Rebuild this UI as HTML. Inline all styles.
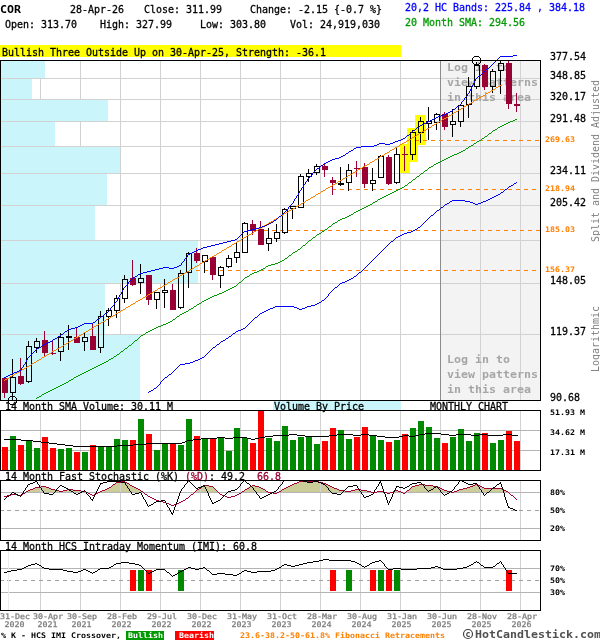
<!DOCTYPE html>
<html><head><meta charset="utf-8"><title>COR Monthly Chart</title>
<style>html,body{margin:0;padding:0;background:#fff;overflow:hidden}svg{display:block}text{filter:url(#gs);font-family:"DejaVu Sans Mono","Liberation Mono",monospace;white-space:pre}</style>
</head><body>
<svg width="600" height="640" viewBox="0 0 600 640" shape-rendering="crispEdges">
<defs><filter id="gs" x="-5%" y="-50%" width="110%" height="200%"><feOffset dx="0" dy="0"/></filter></defs>
<rect x="0" y="0" width="600" height="640" fill="#fff" />
<text x="0" y="13" font-size="11" fill="#000" font-weight="bold" textLength="21" lengthAdjust="spacingAndGlyphs" >COR</text>
<text x="70" y="13" font-size="11" fill="#000" font-weight="normal" textLength="54" lengthAdjust="spacingAndGlyphs"  stroke="#000" stroke-width="0.3">28-Apr-26</text>
<text x="144" y="13" font-size="11" fill="#000" font-weight="normal" textLength="78" lengthAdjust="spacingAndGlyphs"  stroke="#000" stroke-width="0.3">Close: 311.99</text>
<text x="250" y="13" font-size="11" fill="#000" font-weight="normal" textLength="132" lengthAdjust="spacingAndGlyphs"  stroke="#000" stroke-width="0.3">Change: -2.15 {-0.7 %}</text>
<text x="5" y="28" font-size="11" fill="#000" font-weight="normal" textLength="72" lengthAdjust="spacingAndGlyphs"  stroke="#000" stroke-width="0.3">Open: 313.70</text>
<text x="100" y="28" font-size="11" fill="#000" font-weight="normal" textLength="72" lengthAdjust="spacingAndGlyphs"  stroke="#000" stroke-width="0.3">High: 327.99</text>
<text x="200" y="28" font-size="11" fill="#000" font-weight="normal" textLength="66" lengthAdjust="spacingAndGlyphs"  stroke="#000" stroke-width="0.3">Low: 303.80</text>
<text x="290" y="28" font-size="11" fill="#000" font-weight="normal" textLength="90" lengthAdjust="spacingAndGlyphs"  stroke="#000" stroke-width="0.3">Vol: 24,919,030</text>
<text x="405" y="11" font-size="11" fill="#0000ff" font-weight="normal" textLength="180" lengthAdjust="spacingAndGlyphs"  stroke="#0000ff" stroke-width="0.3">20,2 HC Bands: 225.84 , 384.18</text>
<text x="405" y="26" font-size="11" fill="#009900" font-weight="normal" textLength="120" lengthAdjust="spacingAndGlyphs"  stroke="#009900" stroke-width="0.3">20 Month SMA: 294.56</text>
<rect x="0" y="45" width="401" height="12" fill="#ffff00" />
<text x="2" y="56" font-size="11" fill="#000" font-weight="normal" textLength="324" lengthAdjust="spacingAndGlyphs"  stroke="#000" stroke-width="0.3">Bullish Three Outside Up on 30-Apr-25, Strength: -36.1</text>
<rect x="441" y="61" width="99" height="339" fill="#f3f3f3" />
<rect x="1" y="78" width="539" height="1" fill="#d2d2d2" />
<rect x="1" y="99" width="539" height="1" fill="#d2d2d2" />
<rect x="1" y="121" width="539" height="1" fill="#d2d2d2" />
<rect x="1" y="146" width="539" height="1" fill="#d2d2d2" />
<rect x="1" y="173" width="539" height="1" fill="#d2d2d2" />
<rect x="1" y="205" width="539" height="1" fill="#d2d2d2" />
<rect x="1" y="240" width="539" height="1" fill="#d2d2d2" />
<rect x="1" y="283" width="539" height="1" fill="#d2d2d2" />
<rect x="1" y="334" width="539" height="1" fill="#d2d2d2" />
<rect x="40" y="61" width="1" height="339" fill="#d2d2d2" />
<rect x="80" y="61" width="1" height="339" fill="#d2d2d2" />
<rect x="120" y="61" width="1" height="339" fill="#d2d2d2" />
<rect x="160" y="61" width="1" height="339" fill="#d2d2d2" />
<rect x="200" y="61" width="1" height="339" fill="#d2d2d2" />
<rect x="240" y="61" width="1" height="339" fill="#d2d2d2" />
<rect x="280" y="61" width="1" height="339" fill="#d2d2d2" />
<rect x="320" y="61" width="1" height="339" fill="#d2d2d2" />
<rect x="360" y="61" width="1" height="339" fill="#d2d2d2" />
<rect x="400" y="61" width="1" height="339" fill="#d2d2d2" />
<rect x="480" y="61" width="1" height="339" fill="#d2d2d2" />
<rect x="520" y="61" width="1" height="339" fill="#d2d2d2" />
<rect x="440" y="61" width="1" height="339" fill="#8c8c8c" />
<rect x="1" y="61" width="44" height="17" fill="#c9f5fb" />
<rect x="1" y="79" width="31" height="20" fill="#c9f5fb" />
<rect x="1" y="100" width="107" height="21" fill="#c9f5fb" />
<rect x="1" y="122" width="54" height="24" fill="#c9f5fb" />
<rect x="1" y="147" width="119" height="26" fill="#c9f5fb" />
<rect x="1" y="174" width="106" height="31" fill="#c9f5fb" />
<rect x="1" y="206" width="94" height="34" fill="#c9f5fb" />
<rect x="1" y="241" width="197" height="42" fill="#c9f5fb" />
<rect x="1" y="284" width="104" height="50" fill="#c9f5fb" />
<rect x="1" y="335" width="139" height="65" fill="#c9f5fb" />
<rect x="400" y="144" width="10" height="29" fill="#ffff00" />
<rect x="407" y="128" width="11" height="34" fill="#ffff00" />
<rect x="415" y="115" width="11" height="30" fill="#ffff00" />
<rect x="415" y="140" width="4" height="1" fill="#ff7f00" />
<rect x="423" y="140" width="4" height="1" fill="#ff7f00" />
<rect x="431" y="140" width="4" height="1" fill="#ff7f00" />
<rect x="439" y="140" width="4" height="1" fill="#ff7f00" />
<rect x="447" y="140" width="4" height="1" fill="#ff7f00" />
<rect x="455" y="140" width="4" height="1" fill="#ff7f00" />
<rect x="463" y="140" width="4" height="1" fill="#ff7f00" />
<rect x="471" y="140" width="4" height="1" fill="#ff7f00" />
<rect x="479" y="140" width="4" height="1" fill="#ff7f00" />
<rect x="487" y="140" width="4" height="1" fill="#ff7f00" />
<rect x="495" y="140" width="4" height="1" fill="#ff7f00" />
<rect x="503" y="140" width="4" height="1" fill="#ff7f00" />
<rect x="511" y="140" width="4" height="1" fill="#ff7f00" />
<rect x="519" y="140" width="4" height="1" fill="#ff7f00" />
<rect x="527" y="140" width="4" height="1" fill="#ff7f00" />
<rect x="535" y="140" width="4" height="1" fill="#ff7f00" />
<rect x="332" y="189" width="4" height="1" fill="#ff7f00" />
<rect x="340" y="189" width="4" height="1" fill="#ff7f00" />
<rect x="348" y="189" width="4" height="1" fill="#ff7f00" />
<rect x="356" y="189" width="4" height="1" fill="#ff7f00" />
<rect x="364" y="189" width="4" height="1" fill="#ff7f00" />
<rect x="372" y="189" width="4" height="1" fill="#ff7f00" />
<rect x="380" y="189" width="4" height="1" fill="#ff7f00" />
<rect x="388" y="189" width="4" height="1" fill="#ff7f00" />
<rect x="396" y="189" width="4" height="1" fill="#ff7f00" />
<rect x="404" y="189" width="4" height="1" fill="#ff7f00" />
<rect x="412" y="189" width="4" height="1" fill="#ff7f00" />
<rect x="420" y="189" width="4" height="1" fill="#ff7f00" />
<rect x="428" y="189" width="4" height="1" fill="#ff7f00" />
<rect x="436" y="189" width="4" height="1" fill="#ff7f00" />
<rect x="444" y="189" width="4" height="1" fill="#ff7f00" />
<rect x="452" y="189" width="4" height="1" fill="#ff7f00" />
<rect x="460" y="189" width="4" height="1" fill="#ff7f00" />
<rect x="468" y="189" width="4" height="1" fill="#ff7f00" />
<rect x="476" y="189" width="4" height="1" fill="#ff7f00" />
<rect x="484" y="189" width="4" height="1" fill="#ff7f00" />
<rect x="492" y="189" width="4" height="1" fill="#ff7f00" />
<rect x="500" y="189" width="4" height="1" fill="#ff7f00" />
<rect x="508" y="189" width="4" height="1" fill="#ff7f00" />
<rect x="516" y="189" width="4" height="1" fill="#ff7f00" />
<rect x="524" y="189" width="4" height="1" fill="#ff7f00" />
<rect x="532" y="189" width="4" height="1" fill="#ff7f00" />
<rect x="264" y="230" width="4" height="1" fill="#ff7f00" />
<rect x="272" y="230" width="4" height="1" fill="#ff7f00" />
<rect x="280" y="230" width="4" height="1" fill="#ff7f00" />
<rect x="288" y="230" width="4" height="1" fill="#ff7f00" />
<rect x="296" y="230" width="4" height="1" fill="#ff7f00" />
<rect x="304" y="230" width="4" height="1" fill="#ff7f00" />
<rect x="312" y="230" width="4" height="1" fill="#ff7f00" />
<rect x="320" y="230" width="4" height="1" fill="#ff7f00" />
<rect x="328" y="230" width="4" height="1" fill="#ff7f00" />
<rect x="336" y="230" width="4" height="1" fill="#ff7f00" />
<rect x="344" y="230" width="4" height="1" fill="#ff7f00" />
<rect x="352" y="230" width="4" height="1" fill="#ff7f00" />
<rect x="360" y="230" width="4" height="1" fill="#ff7f00" />
<rect x="368" y="230" width="4" height="1" fill="#ff7f00" />
<rect x="376" y="230" width="4" height="1" fill="#ff7f00" />
<rect x="384" y="230" width="4" height="1" fill="#ff7f00" />
<rect x="392" y="230" width="4" height="1" fill="#ff7f00" />
<rect x="400" y="230" width="4" height="1" fill="#ff7f00" />
<rect x="408" y="230" width="4" height="1" fill="#ff7f00" />
<rect x="416" y="230" width="4" height="1" fill="#ff7f00" />
<rect x="424" y="230" width="4" height="1" fill="#ff7f00" />
<rect x="432" y="230" width="4" height="1" fill="#ff7f00" />
<rect x="440" y="230" width="4" height="1" fill="#ff7f00" />
<rect x="448" y="230" width="4" height="1" fill="#ff7f00" />
<rect x="456" y="230" width="4" height="1" fill="#ff7f00" />
<rect x="464" y="230" width="4" height="1" fill="#ff7f00" />
<rect x="472" y="230" width="4" height="1" fill="#ff7f00" />
<rect x="480" y="230" width="4" height="1" fill="#ff7f00" />
<rect x="488" y="230" width="4" height="1" fill="#ff7f00" />
<rect x="496" y="230" width="4" height="1" fill="#ff7f00" />
<rect x="504" y="230" width="4" height="1" fill="#ff7f00" />
<rect x="512" y="230" width="4" height="1" fill="#ff7f00" />
<rect x="520" y="230" width="4" height="1" fill="#ff7f00" />
<rect x="528" y="230" width="4" height="1" fill="#ff7f00" />
<rect x="536" y="230" width="4" height="1" fill="#ff7f00" />
<rect x="196" y="270" width="4" height="1" fill="#ff7f00" />
<rect x="204" y="270" width="4" height="1" fill="#ff7f00" />
<rect x="212" y="270" width="4" height="1" fill="#ff7f00" />
<rect x="220" y="270" width="4" height="1" fill="#ff7f00" />
<rect x="228" y="270" width="4" height="1" fill="#ff7f00" />
<rect x="236" y="270" width="4" height="1" fill="#ff7f00" />
<rect x="244" y="270" width="4" height="1" fill="#ff7f00" />
<rect x="252" y="270" width="4" height="1" fill="#ff7f00" />
<rect x="260" y="270" width="4" height="1" fill="#ff7f00" />
<rect x="268" y="270" width="4" height="1" fill="#ff7f00" />
<rect x="276" y="270" width="4" height="1" fill="#ff7f00" />
<rect x="284" y="270" width="4" height="1" fill="#ff7f00" />
<rect x="292" y="270" width="4" height="1" fill="#ff7f00" />
<rect x="300" y="270" width="4" height="1" fill="#ff7f00" />
<rect x="308" y="270" width="4" height="1" fill="#ff7f00" />
<rect x="316" y="270" width="4" height="1" fill="#ff7f00" />
<rect x="324" y="270" width="4" height="1" fill="#ff7f00" />
<rect x="332" y="270" width="4" height="1" fill="#ff7f00" />
<rect x="340" y="270" width="4" height="1" fill="#ff7f00" />
<rect x="348" y="270" width="4" height="1" fill="#ff7f00" />
<rect x="356" y="270" width="4" height="1" fill="#ff7f00" />
<rect x="364" y="270" width="4" height="1" fill="#ff7f00" />
<rect x="372" y="270" width="4" height="1" fill="#ff7f00" />
<rect x="380" y="270" width="4" height="1" fill="#ff7f00" />
<rect x="388" y="270" width="4" height="1" fill="#ff7f00" />
<rect x="396" y="270" width="4" height="1" fill="#ff7f00" />
<rect x="404" y="270" width="4" height="1" fill="#ff7f00" />
<rect x="412" y="270" width="4" height="1" fill="#ff7f00" />
<rect x="420" y="270" width="4" height="1" fill="#ff7f00" />
<rect x="428" y="270" width="4" height="1" fill="#ff7f00" />
<rect x="436" y="270" width="4" height="1" fill="#ff7f00" />
<rect x="444" y="270" width="4" height="1" fill="#ff7f00" />
<rect x="452" y="270" width="4" height="1" fill="#ff7f00" />
<rect x="460" y="270" width="4" height="1" fill="#ff7f00" />
<rect x="468" y="270" width="4" height="1" fill="#ff7f00" />
<rect x="476" y="270" width="4" height="1" fill="#ff7f00" />
<rect x="484" y="270" width="4" height="1" fill="#ff7f00" />
<rect x="492" y="270" width="4" height="1" fill="#ff7f00" />
<rect x="500" y="270" width="4" height="1" fill="#ff7f00" />
<rect x="508" y="270" width="4" height="1" fill="#ff7f00" />
<rect x="516" y="270" width="4" height="1" fill="#ff7f00" />
<rect x="524" y="270" width="4" height="1" fill="#ff7f00" />
<rect x="532" y="270" width="4" height="1" fill="#ff7f00" />
<text x="447" y="71" font-size="11" fill="#a6a6a6" font-weight="bold" textLength="63" lengthAdjust="spacingAndGlyphs" >Log in to</text>
<text x="447" y="363" font-size="11" fill="#a6a6a6" font-weight="bold" textLength="63" lengthAdjust="spacingAndGlyphs" >Log in to</text>
<text x="447" y="86" font-size="11" fill="#a6a6a6" font-weight="bold" textLength="91" lengthAdjust="spacingAndGlyphs" >view patterns</text>
<text x="447" y="378" font-size="11" fill="#a6a6a6" font-weight="bold" textLength="91" lengthAdjust="spacingAndGlyphs" >view patterns</text>
<text x="447" y="101" font-size="11" fill="#a6a6a6" font-weight="bold" textLength="84" lengthAdjust="spacingAndGlyphs" >in this area</text>
<text x="447" y="393" font-size="11" fill="#a6a6a6" font-weight="bold" textLength="84" lengthAdjust="spacingAndGlyphs" >in this area</text>
<rect x="4" y="378" width="1" height="20" fill="#990033" />
<rect x="2" y="378" width="6" height="15" fill="#990033" />
<rect x="12" y="359" width="1" height="18" fill="#000" />
<rect x="12" y="393" width="1" height="7" fill="#000" />
<rect x="10.5" y="377.5" width="5" height="15" fill="none" stroke="#000" stroke-width="1"/>
<rect x="20" y="358" width="1" height="27" fill="#990033" />
<rect x="18" y="376" width="6" height="8" fill="#990033" />
<rect x="28" y="341" width="1" height="5" fill="#000" />
<rect x="28" y="382" width="1" height="1" fill="#000" />
<rect x="26.5" y="346.5" width="5" height="35" fill="none" stroke="#000" stroke-width="1"/>
<rect x="36" y="338" width="1" height="3" fill="#000" />
<rect x="36" y="348" width="1" height="5" fill="#000" />
<rect x="34.5" y="341.5" width="5" height="6" fill="none" stroke="#000" stroke-width="1"/>
<rect x="44" y="331" width="1" height="25" fill="#990033" />
<rect x="42" y="340" width="6" height="13" fill="#990033" />
<rect x="52" y="341" width="1" height="14" fill="#990033" />
<rect x="50" y="353" width="6" height="1" fill="#990033" />
<rect x="60" y="333" width="1" height="4" fill="#000" />
<rect x="60" y="352" width="1" height="9" fill="#000" />
<rect x="58.5" y="337.5" width="5" height="14" fill="none" stroke="#000" stroke-width="1"/>
<rect x="68" y="325" width="1" height="25" fill="#000" />
<rect x="66" y="336" width="6" height="2" fill="#000" />
<rect x="76" y="327" width="1" height="16" fill="#990033" />
<rect x="74" y="337" width="6" height="6" fill="#990033" />
<rect x="84" y="333" width="1" height="4" fill="#000" />
<rect x="84" y="342" width="1" height="9" fill="#000" />
<rect x="82.5" y="337.5" width="5" height="4" fill="none" stroke="#000" stroke-width="1"/>
<rect x="92" y="323" width="1" height="27" fill="#990033" />
<rect x="90" y="336" width="6" height="14" fill="#990033" />
<rect x="100" y="311" width="1" height="5" fill="#000" />
<rect x="100" y="348" width="1" height="5" fill="#000" />
<rect x="98.5" y="316.5" width="5" height="31" fill="none" stroke="#000" stroke-width="1"/>
<rect x="108" y="308" width="1" height="2" fill="#000" />
<rect x="108" y="317" width="1" height="9" fill="#000" />
<rect x="106.5" y="310.5" width="5" height="6" fill="none" stroke="#000" stroke-width="1"/>
<rect x="116" y="295" width="1" height="3" fill="#000" />
<rect x="116" y="311" width="1" height="7" fill="#000" />
<rect x="114.5" y="298.5" width="5" height="12" fill="none" stroke="#000" stroke-width="1"/>
<rect x="124" y="275" width="1" height="4" fill="#000" />
<rect x="124" y="299" width="1" height="4" fill="#000" />
<rect x="122.5" y="279.5" width="5" height="19" fill="none" stroke="#000" stroke-width="1"/>
<rect x="132" y="260" width="1" height="26" fill="#990033" />
<rect x="130" y="278" width="6" height="7" fill="#990033" />
<rect x="140" y="264" width="1" height="14" fill="#000" />
<rect x="140" y="283" width="1" height="11" fill="#000" />
<rect x="138.5" y="278.5" width="5" height="4" fill="none" stroke="#000" stroke-width="1"/>
<rect x="148" y="275" width="1" height="30" fill="#990033" />
<rect x="146" y="275" width="6" height="25" fill="#990033" />
<rect x="156" y="300" width="1" height="9" fill="#000" />
<rect x="154.5" y="292.5" width="5" height="7" fill="none" stroke="#000" stroke-width="1"/>
<rect x="164" y="279" width="1" height="11" fill="#000" />
<rect x="164" y="293" width="1" height="15" fill="#000" />
<rect x="162.5" y="290.5" width="5" height="2" fill="none" stroke="#000" stroke-width="1"/>
<rect x="172" y="284" width="1" height="26" fill="#990033" />
<rect x="170" y="290" width="6" height="20" fill="#990033" />
<rect x="180" y="270" width="1" height="3" fill="#000" />
<rect x="180" y="308" width="1" height="1" fill="#000" />
<rect x="178.5" y="273.5" width="5" height="34" fill="none" stroke="#000" stroke-width="1"/>
<rect x="188" y="252" width="1" height="1" fill="#000" />
<rect x="188" y="273" width="1" height="15" fill="#000" />
<rect x="186.5" y="253.5" width="5" height="19" fill="none" stroke="#000" stroke-width="1"/>
<rect x="196" y="248" width="1" height="15" fill="#990033" />
<rect x="194" y="253" width="6" height="8" fill="#990033" />
<rect x="204" y="262" width="1" height="11" fill="#000" />
<rect x="202.5" y="255.5" width="5" height="6" fill="none" stroke="#000" stroke-width="1"/>
<rect x="212" y="257" width="1" height="23" fill="#990033" />
<rect x="210" y="257" width="6" height="18" fill="#990033" />
<rect x="220" y="266" width="1" height="1" fill="#000" />
<rect x="220" y="276" width="1" height="12" fill="#000" />
<rect x="218.5" y="267.5" width="5" height="8" fill="none" stroke="#000" stroke-width="1"/>
<rect x="228" y="255" width="1" height="3" fill="#000" />
<rect x="228" y="267" width="1" height="1" fill="#000" />
<rect x="226.5" y="258.5" width="5" height="8" fill="none" stroke="#000" stroke-width="1"/>
<rect x="236" y="243" width="1" height="9" fill="#000" />
<rect x="236" y="258" width="1" height="5" fill="#000" />
<rect x="234.5" y="252.5" width="5" height="5" fill="none" stroke="#000" stroke-width="1"/>
<rect x="244" y="222" width="1" height="1" fill="#000" />
<rect x="242.5" y="223.5" width="5" height="29" fill="none" stroke="#000" stroke-width="1"/>
<rect x="252" y="220" width="1" height="15" fill="#990033" />
<rect x="250" y="224" width="6" height="7" fill="#990033" />
<rect x="260" y="221" width="1" height="24" fill="#990033" />
<rect x="258" y="229" width="6" height="16" fill="#990033" />
<rect x="268" y="228" width="1" height="10" fill="#000" />
<rect x="268" y="244" width="1" height="7" fill="#000" />
<rect x="266.5" y="238.5" width="5" height="5" fill="none" stroke="#000" stroke-width="1"/>
<rect x="276" y="224" width="1" height="8" fill="#000" />
<rect x="276" y="239" width="1" height="3" fill="#000" />
<rect x="274.5" y="232.5" width="5" height="6" fill="none" stroke="#000" stroke-width="1"/>
<rect x="284" y="208" width="1" height="1" fill="#000" />
<rect x="284" y="233" width="1" height="1" fill="#000" />
<rect x="282.5" y="209.5" width="5" height="23" fill="none" stroke="#000" stroke-width="1"/>
<rect x="292" y="209" width="1" height="10" fill="#000" />
<rect x="290.5" y="206.5" width="5" height="2" fill="none" stroke="#000" stroke-width="1"/>
<rect x="300" y="174" width="1" height="2" fill="#000" />
<rect x="298.5" y="176.5" width="5" height="31" fill="none" stroke="#000" stroke-width="1"/>
<rect x="308" y="169" width="1" height="4" fill="#000" />
<rect x="308" y="177" width="1" height="5" fill="#000" />
<rect x="306.5" y="173.5" width="5" height="3" fill="none" stroke="#000" stroke-width="1"/>
<rect x="316" y="164" width="1" height="2" fill="#000" />
<rect x="316" y="173" width="1" height="2" fill="#000" />
<rect x="314.5" y="166.5" width="5" height="6" fill="none" stroke="#000" stroke-width="1"/>
<rect x="324" y="163" width="1" height="14" fill="#990033" />
<rect x="322" y="166" width="6" height="4" fill="#990033" />
<rect x="332" y="177" width="1" height="18" fill="#990033" />
<rect x="330" y="180" width="6" height="3" fill="#990033" />
<rect x="340" y="167" width="1" height="19" fill="#000" />
<rect x="338" y="183" width="6" height="2" fill="#000" />
<rect x="348" y="164" width="1" height="6" fill="#000" />
<rect x="348" y="183" width="1" height="8" fill="#000" />
<rect x="346.5" y="170.5" width="5" height="12" fill="none" stroke="#000" stroke-width="1"/>
<rect x="356" y="161" width="1" height="16" fill="#990033" />
<rect x="354" y="168" width="6" height="1" fill="#990033" />
<rect x="364" y="163" width="1" height="25" fill="#990033" />
<rect x="362" y="167" width="6" height="17" fill="#990033" />
<rect x="372" y="168" width="1" height="12" fill="#000" />
<rect x="372" y="184" width="1" height="7" fill="#000" />
<rect x="370.5" y="180.5" width="5" height="3" fill="none" stroke="#000" stroke-width="1"/>
<rect x="380" y="155" width="1" height="1" fill="#000" />
<rect x="378.5" y="156.5" width="5" height="21" fill="none" stroke="#000" stroke-width="1"/>
<rect x="388" y="155" width="1" height="30" fill="#990033" />
<rect x="386" y="157" width="6" height="27" fill="#990033" />
<rect x="396" y="148" width="1" height="6" fill="#000" />
<rect x="396" y="183" width="1" height="1" fill="#000" />
<rect x="394.5" y="154.5" width="5" height="28" fill="none" stroke="#000" stroke-width="1"/>
<rect x="404" y="146" width="1" height="25" fill="#990033" />
<rect x="402" y="154" width="6" height="1" fill="#990033" />
<rect x="412" y="130" width="1" height="2" fill="#000" />
<rect x="412" y="155" width="1" height="5" fill="#000" />
<rect x="410.5" y="132.5" width="5" height="22" fill="none" stroke="#000" stroke-width="1"/>
<rect x="420" y="117" width="1" height="4" fill="#000" />
<rect x="420" y="133" width="1" height="10" fill="#000" />
<rect x="418.5" y="121.5" width="5" height="11" fill="none" stroke="#000" stroke-width="1"/>
<rect x="428" y="107" width="1" height="14" fill="#000" />
<rect x="428" y="124" width="1" height="16" fill="#000" />
<rect x="426.5" y="121.5" width="5" height="2" fill="none" stroke="#000" stroke-width="1"/>
<rect x="436" y="113" width="1" height="1" fill="#000" />
<rect x="436" y="123" width="1" height="7" fill="#000" />
<rect x="434.5" y="114.5" width="5" height="8" fill="none" stroke="#000" stroke-width="1"/>
<rect x="444" y="112" width="1" height="18" fill="#990033" />
<rect x="442" y="114" width="6" height="13" fill="#990033" />
<rect x="452" y="109" width="1" height="12" fill="#000" />
<rect x="452" y="125" width="1" height="12" fill="#000" />
<rect x="450.5" y="121.5" width="5" height="3" fill="none" stroke="#000" stroke-width="1"/>
<rect x="460" y="104" width="1" height="1" fill="#000" />
<rect x="460" y="122" width="1" height="5" fill="#000" />
<rect x="458.5" y="105.5" width="5" height="16" fill="none" stroke="#000" stroke-width="1"/>
<rect x="468" y="77" width="1" height="9" fill="#000" />
<rect x="468" y="105" width="1" height="13" fill="#000" />
<rect x="466.5" y="86.5" width="5" height="18" fill="none" stroke="#000" stroke-width="1"/>
<rect x="476" y="62" width="1" height="3" fill="#000" />
<rect x="476" y="87" width="1" height="2" fill="#000" />
<rect x="474.5" y="65.5" width="5" height="21" fill="none" stroke="#000" stroke-width="1"/>
<rect x="484" y="64" width="1" height="26" fill="#990033" />
<rect x="482" y="65" width="6" height="22" fill="#990033" />
<rect x="492" y="69" width="1" height="2" fill="#000" />
<rect x="492" y="87" width="1" height="6" fill="#000" />
<rect x="490.5" y="71.5" width="5" height="15" fill="none" stroke="#000" stroke-width="1"/>
<rect x="500" y="61" width="1" height="2" fill="#000" />
<rect x="500" y="71" width="1" height="23" fill="#000" />
<rect x="498.5" y="63.5" width="5" height="7" fill="none" stroke="#000" stroke-width="1"/>
<rect x="508" y="61" width="1" height="48" fill="#990033" />
<rect x="506" y="63" width="6" height="41" fill="#990033" />
<rect x="516" y="93" width="1" height="19" fill="#990033" />
<rect x="514" y="104" width="6" height="2" fill="#990033" />
<path d="M500 85h1v1h-1zM498 86h2v1h-2zM496 87h2v1h-2zM495 88h1v1h-1zM493 89h2v1h-2zM491 90h2v1h-2zM490 91h1v1h-1zM488 92h2v1h-2zM486 93h2v1h-2zM485 94h1v1h-1zM483 95h2v1h-2zM481 96h2v1h-2zM479 97h2v1h-2zM478 98h1v1h-1zM476 99h2v1h-2zM474 100h2v1h-2zM473 101h1v1h-1zM471 102h2v1h-2zM469 103h2v1h-2zM468 104h1v1h-1zM466 105h2v1h-2zM464 106h2v1h-2zM463 107h1v1h-1zM461 108h2v1h-2zM459 109h2v1h-2zM458 110h1v1h-1zM456 111h2v1h-2zM454 112h2v1h-2zM453 113h1v1h-1zM451 114h2v1h-2zM449 115h2v1h-2zM448 116h1v1h-1zM446 117h2v1h-2zM444 118h2v1h-2zM442 119h2v1h-2zM441 120h1v1h-1zM439 121h2v1h-2zM437 122h2v1h-2zM436 123h1v1h-1zM434 124h2v1h-2zM432 125h2v1h-2zM431 126h1v1h-1zM429 127h2v1h-2zM427 128h2v1h-2zM426 129h1v1h-1zM424 130h2v1h-2zM422 131h2v1h-2zM421 132h1v1h-1zM419 133h2v1h-2zM417 134h2v1h-2zM416 135h1v1h-1zM414 136h2v1h-2zM412 137h2v1h-2zM411 138h1v1h-1zM409 139h2v1h-2zM407 140h2v1h-2zM406 141h1v1h-1zM404 142h2v1h-2zM402 143h2v1h-2zM400 144h2v1h-2zM399 145h1v1h-1zM397 146h2v1h-2zM395 147h2v1h-2zM394 148h1v1h-1zM392 149h2v1h-2zM390 150h2v1h-2zM389 151h1v1h-1zM387 152h2v1h-2zM385 153h2v1h-2zM384 154h1v1h-1zM382 155h2v1h-2zM380 156h2v1h-2zM379 157h1v1h-1zM377 158h2v1h-2zM375 159h2v1h-2zM374 160h1v1h-1zM372 161h2v1h-2zM370 162h2v1h-2zM369 163h1v1h-1zM367 164h2v1h-2zM365 165h2v1h-2zM363 166h2v1h-2zM362 167h1v1h-1zM360 168h2v1h-2zM358 169h2v1h-2zM357 170h1v1h-1zM355 171h2v1h-2zM353 172h2v1h-2zM352 173h1v1h-1zM350 174h2v1h-2zM348 175h2v1h-2zM347 176h1v1h-1zM345 177h2v1h-2zM343 178h2v1h-2zM342 179h1v1h-1zM340 180h2v1h-2zM338 181h2v1h-2zM337 182h1v1h-1zM335 183h2v1h-2zM333 184h2v1h-2zM332 185h1v1h-1zM330 186h2v1h-2zM328 187h2v1h-2zM326 188h2v1h-2zM325 189h1v1h-1zM323 190h2v1h-2zM321 191h2v1h-2zM320 192h1v1h-1zM318 193h2v1h-2zM316 194h2v1h-2zM315 195h1v1h-1zM313 196h2v1h-2zM311 197h2v1h-2zM310 198h1v1h-1zM308 199h2v1h-2zM306 200h2v1h-2zM305 201h1v1h-1zM303 202h2v1h-2zM301 203h2v1h-2zM300 204h1v1h-1zM298 205h2v1h-2zM296 206h2v1h-2zM295 207h1v1h-1zM293 208h2v1h-2zM291 209h2v1h-2zM289 210h2v1h-2zM288 211h1v1h-1zM286 212h2v1h-2zM284 213h2v1h-2zM283 214h1v1h-1zM281 215h2v1h-2zM279 216h2v1h-2zM278 217h1v1h-1zM276 218h2v1h-2zM274 219h2v1h-2zM273 220h1v1h-1zM271 221h2v1h-2zM269 222h2v1h-2zM268 223h1v1h-1zM266 224h2v1h-2zM264 225h2v1h-2zM263 226h1v1h-1zM261 227h2v1h-2zM259 228h2v1h-2zM258 229h1v1h-1zM256 230h2v1h-2zM254 231h2v1h-2zM253 232h1v1h-1zM251 233h2v1h-2zM249 234h2v1h-2zM247 235h2v1h-2zM246 236h1v1h-1zM244 237h2v1h-2zM242 238h2v1h-2zM241 239h1v1h-1zM239 240h2v1h-2zM237 241h2v1h-2zM236 242h1v1h-1zM234 243h2v1h-2zM232 244h2v1h-2zM231 245h1v1h-1zM229 246h2v1h-2zM227 247h2v1h-2zM226 248h1v1h-1zM224 249h2v1h-2zM222 250h2v1h-2zM221 251h1v1h-1zM219 252h2v1h-2zM217 253h2v1h-2zM216 254h1v1h-1zM214 255h2v1h-2zM212 256h2v1h-2zM210 257h2v1h-2zM209 258h1v1h-1zM207 259h2v1h-2zM205 260h2v1h-2zM204 261h1v1h-1zM202 262h2v1h-2zM200 263h2v1h-2zM199 264h1v1h-1zM197 265h2v1h-2zM195 266h2v1h-2zM194 267h1v1h-1zM192 268h2v1h-2zM190 269h2v1h-2zM189 270h1v1h-1zM187 271h2v1h-2zM185 272h2v1h-2zM184 273h1v1h-1zM182 274h2v1h-2zM180 275h2v1h-2zM179 276h1v1h-1zM177 277h2v1h-2zM175 278h2v1h-2zM173 279h2v1h-2zM172 280h1v1h-1zM170 281h2v1h-2zM168 282h2v1h-2zM167 283h1v1h-1zM165 284h2v1h-2zM163 285h2v1h-2zM162 286h1v1h-1zM160 287h2v1h-2zM158 288h2v1h-2zM157 289h1v1h-1zM155 290h2v1h-2zM153 291h2v1h-2zM152 292h1v1h-1zM150 293h2v1h-2zM148 294h2v1h-2zM147 295h1v1h-1zM145 296h2v1h-2zM143 297h2v1h-2zM142 298h1v1h-1zM140 299h2v1h-2zM138 300h2v1h-2zM136 301h2v1h-2zM135 302h1v1h-1zM133 303h2v1h-2zM131 304h2v1h-2zM130 305h1v1h-1zM128 306h2v1h-2zM126 307h2v1h-2zM125 308h1v1h-1zM123 309h2v1h-2zM121 310h2v1h-2zM120 311h1v1h-1zM118 312h2v1h-2zM116 313h2v1h-2zM115 314h1v1h-1zM113 315h2v1h-2zM111 316h2v1h-2zM110 317h1v1h-1zM108 318h2v1h-2zM106 319h2v1h-2zM105 320h1v1h-1zM103 321h2v1h-2zM101 322h2v1h-2zM99 323h2v1h-2zM98 324h1v1h-1zM96 325h2v1h-2zM94 326h2v1h-2zM93 327h1v1h-1zM91 328h2v1h-2zM89 329h2v1h-2zM88 330h1v1h-1zM86 331h2v1h-2zM84 332h2v1h-2zM83 333h1v1h-1zM81 334h2v1h-2zM79 335h2v1h-2zM78 336h1v1h-1zM76 337h2v1h-2zM74 338h2v1h-2zM73 339h1v1h-1zM71 340h2v1h-2zM69 341h2v1h-2zM68 342h1v1h-1zM66 343h2v1h-2zM64 344h2v1h-2zM63 345h1v1h-1zM61 346h2v1h-2zM59 347h2v1h-2zM57 348h2v1h-2zM56 349h1v1h-1zM54 350h2v1h-2zM52 351h2v1h-2zM51 352h1v1h-1zM49 353h2v1h-2zM47 354h2v1h-2zM46 355h1v1h-1zM44 356h2v1h-2zM42 357h2v1h-2zM41 358h1v1h-1zM39 359h2v1h-2zM37 360h2v1h-2zM36 361h1v1h-1zM34 362h2v1h-2zM32 363h2v1h-2zM31 364h1v1h-1zM29 365h2v1h-2zM27 366h2v1h-2zM26 367h1v1h-1zM24 368h2v1h-2zM22 369h2v1h-2zM20 370h2v1h-2zM19 371h1v1h-1zM17 372h2v1h-2zM15 373h2v1h-2zM14 374h1v1h-1zM12 375h2v1h-2zM10 376h2v1h-2zM9 377h1v1h-1zM7 378h2v1h-2zM5 379h2v1h-2zM4 380h1v1h-1z" fill="#ff7f00" />
<path d="M515 119h2v1h-2zM513 120h2v1h-2zM510 121h3v1h-3zM508 122h2v1h-2zM506 123h2v1h-2zM504 124h2v1h-2zM502 125h2v1h-2zM500 126h2v1h-2zM498 127h2v1h-2zM497 128h1v1h-1zM495 129h2v1h-2zM493 130h2v1h-2zM492 131h1v1h-1zM491 132h1v1h-1zM489 133h2v1h-2zM488 134h1v1h-1zM487 135h1v1h-1zM485 136h2v1h-2zM484 137h1v1h-1zM482 138h2v1h-2zM481 139h1v1h-1zM479 140h2v1h-2zM477 141h2v1h-2zM476 142h1v1h-1zM474 143h2v1h-2zM473 144h1v1h-1zM471 145h2v1h-2zM469 146h2v1h-2zM468 147h1v1h-1zM466 148h2v1h-2zM465 149h1v1h-1zM463 150h2v1h-2zM461 151h2v1h-2zM459 152h2v1h-2zM457 153h2v1h-2zM454 154h3v1h-3zM452 155h2v1h-2zM450 156h2v1h-2zM448 157h2v1h-2zM446 158h2v1h-2zM444 159h2v1h-2zM442 160h2v1h-2zM440 161h2v1h-2zM438 162h2v1h-2zM436 163h2v1h-2zM434 164h2v1h-2zM433 165h1v1h-1zM431 166h2v1h-2zM429 167h2v1h-2zM428 168h1v1h-1zM427 169h1v1h-1zM425 170h2v1h-2zM424 171h1v1h-1zM423 172h1v1h-1zM421 173h2v1h-2zM420 174h1v1h-1zM419 175h1v1h-1zM417 176h2v1h-2zM416 177h1v1h-1zM415 178h1v1h-1zM413 179h2v1h-2zM412 180h1v1h-1zM411 181h1v1h-1zM409 182h2v1h-2zM408 183h1v1h-1zM407 184h1v1h-1zM405 185h2v1h-2zM404 186h1v1h-1zM402 187h2v1h-2zM400 188h2v1h-2zM398 189h2v1h-2zM396 190h2v1h-2zM394 191h2v1h-2zM392 192h2v1h-2zM390 193h2v1h-2zM388 194h2v1h-2zM386 195h2v1h-2zM384 196h2v1h-2zM382 197h2v1h-2zM380 198h2v1h-2zM378 199h2v1h-2zM377 200h1v1h-1zM375 201h2v1h-2zM373 202h2v1h-2zM372 203h1v1h-1zM370 204h2v1h-2zM368 205h2v1h-2zM366 206h2v1h-2zM364 207h2v1h-2zM362 208h2v1h-2zM360 209h2v1h-2zM358 210h2v1h-2zM356 211h2v1h-2zM354 212h2v1h-2zM353 213h1v1h-1zM351 214h2v1h-2zM349 215h2v1h-2zM347 216h2v1h-2zM345 217h2v1h-2zM342 218h3v1h-3zM340 219h2v1h-2zM338 220h2v1h-2zM337 221h1v1h-1zM335 222h2v1h-2zM333 223h2v1h-2zM332 224h1v1h-1zM331 225h1v1h-1zM329 226h2v1h-2zM328 227h1v1h-1zM327 228h1v1h-1zM325 229h2v1h-2zM324 230h1v1h-1zM322 231h2v1h-2zM321 232h1v1h-1zM319 233h2v1h-2zM317 234h2v1h-2zM316 235h1v1h-1zM315 236h1v1h-1zM313 237h2v1h-2zM312 238h1v1h-1zM311 239h1v1h-1zM309 240h2v1h-2zM308 241h1v1h-1zM307 242h1v1h-1zM306 243h1v1h-1zM305 244h1v1h-1zM303 245h2v1h-2zM302 246h1v1h-1zM301 247h1v1h-1zM300 248h1v1h-1zM298 249h2v1h-2zM297 250h1v1h-1zM295 251h2v1h-2zM293 252h2v1h-2zM292 253h1v1h-1zM291 254h1v1h-1zM289 255h2v1h-2zM288 256h1v1h-1zM287 257h1v1h-1zM285 258h2v1h-2zM284 259h1v1h-1zM282 260h2v1h-2zM280 261h2v1h-2zM278 262h2v1h-2zM275 263h3v1h-3zM271 264h4v1h-4zM268 265h3v1h-3zM266 266h2v1h-2zM265 267h1v1h-1zM263 268h2v1h-2zM261 269h2v1h-2zM259 270h2v1h-2zM257 271h2v1h-2zM254 272h3v1h-3zM252 273h2v1h-2zM250 274h2v1h-2zM249 275h1v1h-1zM247 276h2v1h-2zM245 277h2v1h-2zM244 278h1v1h-1zM243 279h1v1h-1zM242 280h1v1h-1zM241 281h1v1h-1zM239 282h2v1h-2zM238 283h1v1h-1zM237 284h1v1h-1zM236 285h1v1h-1zM234 286h2v1h-2zM232 287h2v1h-2zM230 288h2v1h-2zM228 289h2v1h-2zM226 290h2v1h-2zM224 291h2v1h-2zM222 292h2v1h-2zM219 293h3v1h-3zM217 294h2v1h-2zM214 295h3v1h-3zM212 296h2v1h-2zM210 297h2v1h-2zM208 298h2v1h-2zM206 299h2v1h-2zM204 300h2v1h-2zM202 301h2v1h-2zM201 302h1v1h-1zM199 303h2v1h-2zM197 304h2v1h-2zM196 305h1v1h-1zM194 306h2v1h-2zM193 307h1v1h-1zM191 308h2v1h-2zM189 309h2v1h-2zM188 310h1v1h-1zM186 311h2v1h-2zM184 312h2v1h-2zM182 313h2v1h-2zM180 314h2v1h-2zM179 315h1v1h-1zM177 316h2v1h-2zM176 317h1v1h-1zM175 318h1v1h-1zM173 319h2v1h-2zM172 320h1v1h-1zM170 321h2v1h-2zM168 322h2v1h-2zM166 323h2v1h-2zM163 324h3v1h-3zM161 325h2v1h-2zM158 326h3v1h-3zM156 327h2v1h-2zM154 328h2v1h-2zM152 329h2v1h-2zM150 330h2v1h-2zM148 331h2v1h-2zM146 332h2v1h-2zM145 333h1v1h-1zM143 334h2v1h-2zM141 335h2v1h-2zM140 336h1v1h-1zM139 337h1v1h-1zM138 338h1v1h-1zM137 339h1v1h-1zM135 340h2v1h-2zM134 341h1v1h-1zM133 342h1v1h-1zM132 343h1v1h-1zM131 344h1v1h-1zM129 345h2v1h-2zM128 346h1v1h-1zM127 347h1v1h-1zM125 348h2v1h-2zM124 349h1v1h-1zM123 350h1v1h-1zM121 351h2v1h-2zM120 352h1v1h-1zM119 353h1v1h-1zM117 354h2v1h-2zM116 355h1v1h-1zM114 356h2v1h-2zM113 357h1v1h-1zM111 358h2v1h-2zM109 359h2v1h-2zM108 360h1v1h-1zM106 361h2v1h-2zM104 362h2v1h-2zM102 363h2v1h-2zM100 364h2v1h-2zM98 365h2v1h-2zM96 366h2v1h-2zM94 367h2v1h-2zM92 368h2v1h-2zM90 369h2v1h-2zM88 370h2v1h-2zM86 371h2v1h-2zM84 372h2v1h-2zM82 373h2v1h-2zM80 374h2v1h-2zM78 375h2v1h-2zM76 376h2v1h-2zM74 377h2v1h-2zM73 378h1v1h-1zM71 379h2v1h-2zM69 380h2v1h-2zM68 381h1v1h-1zM66 382h2v1h-2zM64 383h2v1h-2zM62 384h2v1h-2zM60 385h2v1h-2zM58 386h2v1h-2zM56 387h2v1h-2zM54 388h2v1h-2zM52 389h2v1h-2zM50 390h2v1h-2zM48 391h2v1h-2zM46 392h2v1h-2zM44 393h2v1h-2zM42 394h2v1h-2zM41 395h1v1h-1zM39 396h2v1h-2zM37 397h2v1h-2zM36 398h1v1h-1z" fill="#009900" />
<path d="M516 182h1v1h-1zM514 183h2v1h-2zM513 184h1v1h-1zM511 185h2v1h-2zM509 186h2v1h-2zM508 187h1v1h-1zM507 188h1v1h-1zM505 189h2v1h-2zM504 190h1v1h-1zM503 191h1v1h-1zM501 192h2v1h-2zM500 193h1v1h-1zM498 194h2v1h-2zM496 195h2v1h-2zM494 196h2v1h-2zM492 197h2v1h-2zM490 198h2v1h-2zM488 199h2v1h-2zM452 200h13v1h-13zM486 200h2v1h-2zM450 201h2v1h-2zM465 201h5v1h-5zM483 201h3v1h-3zM449 202h1v1h-1zM470 202h3v1h-3zM481 202h2v1h-2zM447 203h2v1h-2zM473 203h2v1h-2zM478 203h3v1h-3zM445 204h2v1h-2zM475 204h3v1h-3zM444 205h1v1h-1zM443 206h1v1h-1zM441 207h2v1h-2zM440 208h1v1h-1zM439 209h1v1h-1zM437 210h2v1h-2zM436 211h1v1h-1zM435 212h1v1h-1zM434 213h1v1h-1zM433 214h1v1h-1zM431 215h2v1h-2zM430 216h1v1h-1zM429 217h1v1h-1zM428 218h1v1h-1zM427 219h1v1h-1zM426 220h1v1h-1zM425 221h1v1h-1zM424 222h1v1h-1zM423 223h1v1h-1zM422 224h1v1h-1zM421 225h1v1h-1zM420 226h1v1h-1zM418 227h2v1h-2zM417 228h1v1h-1zM415 229h2v1h-2zM413 230h2v1h-2zM411 231h2v1h-2zM407 232h4v1h-4zM404 233h3v1h-3zM402 234h2v1h-2zM400 235h2v1h-2zM398 236h2v1h-2zM396 237h2v1h-2zM395 238h1v1h-1zM394 239h1v1h-1zM393 240h1v1h-1zM391 241h2v1h-2zM390 242h1v1h-1zM389 243h1v1h-1zM388 244h1v1h-1zM387 245h1v1h-1zM386 246h1v1h-1zM385 247h1v1h-1zM384 248h1v1h-1zM383 249h1v1h-1zM382 250h1v1h-1zM381 251h1v1h-1zM380 252h1v1h-1zM379 253h1v1h-1zM378 254h1v1h-1zM377 255h1v1h-1zM376 256h1v1h-1zM375 257h1v1h-1zM374 258h1v1h-1zM373 259h1v1h-1zM372 260h1v1h-1zM371 261h1v1h-1zM370 262h1v1h-1zM369 263h1v1h-1zM368 264h1v1h-1zM367 265h1v1h-1zM366 266h1v1h-1zM365 267h1v1h-1zM364 268h1v1h-1zM363 269h1v1h-1zM362 270h1v1h-1zM361 271h1v1h-1zM359 272h2v1h-2zM358 273h1v1h-1zM357 274h1v1h-1zM356 275h1v1h-1zM354 276h2v1h-2zM353 277h1v1h-1zM351 278h2v1h-2zM349 279h2v1h-2zM347 280h2v1h-2zM345 281h2v1h-2zM342 282h3v1h-3zM340 283h2v1h-2zM339 284h1v1h-1zM338 285h1v1h-1zM337 286h1v1h-1zM335 287h2v1h-2zM334 288h1v1h-1zM333 289h1v1h-1zM332 290h1v1h-1zM331 291h1v1h-1zM330 292h1v1h-1zM329 293h1v1h-1zM328 294h1v1h-1zM328 295h1v1h-1zM327 296h1v1h-1zM326 297h1v1h-1zM325 298h1v1h-1zM324 299h1v1h-1zM322 300h2v1h-2zM321 301h1v1h-1zM319 302h2v1h-2zM317 303h2v1h-2zM315 304h2v1h-2zM311 305h4v1h-4zM275 306h19v1h-19zM307 306h4v1h-4zM273 307h2v1h-2zM294 307h3v1h-3zM305 307h2v1h-2zM270 308h3v1h-3zM297 308h2v1h-2zM302 308h3v1h-3zM268 309h2v1h-2zM299 309h3v1h-3zM266 310h2v1h-2zM264 311h2v1h-2zM262 312h2v1h-2zM260 313h2v1h-2zM259 314h1v1h-1zM258 315h1v1h-1zM257 316h1v1h-1zM255 317h2v1h-2zM254 318h1v1h-1zM253 319h1v1h-1zM252 320h1v1h-1zM251 321h1v1h-1zM250 322h1v1h-1zM249 323h1v1h-1zM248 324h1v1h-1zM247 325h1v1h-1zM246 326h1v1h-1zM245 327h1v1h-1zM243 328h2v1h-2zM241 329h2v1h-2zM238 330h3v1h-3zM236 331h2v1h-2zM235 332h1v1h-1zM233 333h2v1h-2zM232 334h1v1h-1zM231 335h1v1h-1zM229 336h2v1h-2zM228 337h1v1h-1zM226 338h2v1h-2zM225 339h1v1h-1zM223 340h2v1h-2zM221 341h2v1h-2zM220 342h1v1h-1zM219 343h1v1h-1zM217 344h2v1h-2zM216 345h1v1h-1zM215 346h1v1h-1zM213 347h2v1h-2zM212 348h1v1h-1zM211 349h1v1h-1zM210 350h1v1h-1zM209 351h1v1h-1zM208 352h1v1h-1zM207 353h1v1h-1zM206 354h1v1h-1zM205 355h1v1h-1zM204 356h1v1h-1zM202 357h2v1h-2zM200 358h2v1h-2zM198 359h2v1h-2zM195 360h3v1h-3zM193 361h2v1h-2zM190 362h3v1h-3zM185 363h5v1h-5zM180 364h5v1h-5zM179 365h1v1h-1zM178 366h1v1h-1zM177 367h1v1h-1zM176 368h1v1h-1zM175 369h1v1h-1zM174 370h1v1h-1zM173 371h1v1h-1zM172 372h1v1h-1zM171 373h1v1h-1zM169 374h2v1h-2zM168 375h1v1h-1zM167 376h1v1h-1zM165 377h2v1h-2zM164 378h1v1h-1zM163 379h1v1h-1zM162 380h1v1h-1zM161 381h1v1h-1zM160 382h1v1h-1zM160 383h1v1h-1zM159 384h1v1h-1zM158 385h1v1h-1zM157 386h1v1h-1zM156 387h1v1h-1zM154 388h2v1h-2zM153 389h1v1h-1zM151 390h2v1h-2zM149 391h2v1h-2zM148 392h1v1h-1z" fill="#0000ff" />
<path d="M513 55h4v1h-4zM500 56h13v1h-13zM499 57h1v1h-1zM498 58h1v1h-1zM497 59h1v1h-1zM496 60h1v1h-1zM495 61h1v1h-1zM494 62h1v1h-1zM493 63h1v1h-1zM492 64h1v1h-1zM491 65h1v1h-1zM490 66h1v1h-1zM489 67h1v1h-1zM487 68h2v1h-2zM486 69h1v1h-1zM485 70h1v1h-1zM484 71h1v1h-1zM483 72h1v1h-1zM482 73h1v1h-1zM481 74h1v1h-1zM479 75h2v1h-2zM478 76h1v1h-1zM477 77h1v1h-1zM476 78h1v1h-1zM475 79h1v1h-1zM475 80h1v1h-1zM474 81h1v1h-1zM474 82h1v1h-1zM473 83h1v1h-1zM473 84h1v1h-1zM472 85h1v1h-1zM472 86h1v1h-1zM471 87h1v1h-1zM471 88h1v1h-1zM470 89h1v1h-1zM470 90h1v1h-1zM469 91h1v1h-1zM469 92h1v1h-1zM468 93h1v1h-1zM467 94h1v1h-1zM467 95h1v1h-1zM466 96h1v1h-1zM465 97h1v1h-1zM464 98h1v1h-1zM464 99h1v1h-1zM463 100h1v1h-1zM462 101h1v1h-1zM461 102h1v1h-1zM461 103h1v1h-1zM460 104h1v1h-1zM459 105h1v1h-1zM457 106h2v1h-2zM456 107h1v1h-1zM455 108h1v1h-1zM453 109h2v1h-2zM452 110h1v1h-1zM450 111h2v1h-2zM448 112h2v1h-2zM446 113h2v1h-2zM443 114h3v1h-3zM441 115h2v1h-2zM438 116h3v1h-3zM436 117h2v1h-2zM434 118h2v1h-2zM432 119h2v1h-2zM430 120h2v1h-2zM428 121h2v1h-2zM426 122h2v1h-2zM424 123h2v1h-2zM422 124h2v1h-2zM420 125h2v1h-2zM419 126h1v1h-1zM417 127h2v1h-2zM416 128h1v1h-1zM415 129h1v1h-1zM413 130h2v1h-2zM412 131h1v1h-1zM411 132h1v1h-1zM410 133h1v1h-1zM409 134h1v1h-1zM407 135h2v1h-2zM406 136h1v1h-1zM405 137h1v1h-1zM403 138h2v1h-2zM401 139h2v1h-2zM398 140h3v1h-3zM395 141h3v1h-3zM393 142h2v1h-2zM379 143h6v1h-6zM390 143h3v1h-3zM377 144h2v1h-2zM385 144h5v1h-5zM374 145h3v1h-3zM361 146h13v1h-13zM356 147h5v1h-5zM354 148h2v1h-2zM353 149h1v1h-1zM351 150h2v1h-2zM349 151h2v1h-2zM348 152h1v1h-1zM346 153h2v1h-2zM345 154h1v1h-1zM343 155h2v1h-2zM341 156h2v1h-2zM339 157h2v1h-2zM335 158h4v1h-4zM332 159h3v1h-3zM330 160h2v1h-2zM328 161h2v1h-2zM326 162h2v1h-2zM324 163h2v1h-2zM323 164h1v1h-1zM321 165h2v1h-2zM320 166h1v1h-1zM319 167h1v1h-1zM317 168h2v1h-2zM316 169h1v1h-1zM315 170h1v1h-1zM314 171h1v1h-1zM313 172h1v1h-1zM312 173h1v1h-1zM312 174h1v1h-1zM311 175h1v1h-1zM310 176h1v1h-1zM309 177h1v1h-1zM308 178h1v1h-1zM307 179h1v1h-1zM307 180h1v1h-1zM306 181h1v1h-1zM305 182h1v1h-1zM305 183h1v1h-1zM304 184h1v1h-1zM303 185h1v1h-1zM303 186h1v1h-1zM302 187h1v1h-1zM301 188h1v1h-1zM301 189h1v1h-1zM300 190h1v1h-1zM299 191h1v1h-1zM299 192h1v1h-1zM298 193h1v1h-1zM298 194h1v1h-1zM297 195h1v1h-1zM296 196h1v1h-1zM296 197h1v1h-1zM295 198h1v1h-1zM294 199h1v1h-1zM294 200h1v1h-1zM293 201h1v1h-1zM293 202h1v1h-1zM292 203h1v1h-1zM291 204h1v1h-1zM290 205h1v1h-1zM289 206h1v1h-1zM288 207h1v1h-1zM288 208h1v1h-1zM287 209h1v1h-1zM286 210h1v1h-1zM285 211h1v1h-1zM284 212h1v1h-1zM283 213h1v1h-1zM282 214h1v1h-1zM281 215h1v1h-1zM279 216h2v1h-2zM278 217h1v1h-1zM277 218h1v1h-1zM276 219h1v1h-1zM274 220h2v1h-2zM273 221h1v1h-1zM271 222h2v1h-2zM269 223h2v1h-2zM267 224h2v1h-2zM265 225h2v1h-2zM262 226h3v1h-3zM259 227h3v1h-3zM255 228h4v1h-4zM251 229h4v1h-4zM247 230h4v1h-4zM244 231h3v1h-3zM243 232h1v1h-1zM242 233h1v1h-1zM241 234h1v1h-1zM240 235h1v1h-1zM239 236h1v1h-1zM238 237h1v1h-1zM237 238h1v1h-1zM235 239h2v1h-2zM231 240h4v1h-4zM227 241h4v1h-4zM223 242h4v1h-4zM219 243h4v1h-4zM215 244h4v1h-4zM211 245h4v1h-4zM207 246h4v1h-4zM203 247h4v1h-4zM201 248h2v1h-2zM198 249h3v1h-3zM196 250h2v1h-2zM194 251h2v1h-2zM192 252h2v1h-2zM190 253h2v1h-2zM188 254h2v1h-2zM187 255h1v1h-1zM187 256h1v1h-1zM186 257h1v1h-1zM185 258h1v1h-1zM184 259h1v1h-1zM184 260h1v1h-1zM183 261h1v1h-1zM182 262h1v1h-1zM181 263h1v1h-1zM181 264h1v1h-1zM179 265h2v1h-2zM177 266h2v1h-2zM163 267h6v1h-6zM174 267h3v1h-3zM159 268h4v1h-4zM169 268h5v1h-5zM155 269h4v1h-4zM151 270h4v1h-4zM147 271h4v1h-4zM143 272h4v1h-4zM140 273h3v1h-3zM138 274h2v1h-2zM137 275h1v1h-1zM135 276h2v1h-2zM133 277h2v1h-2zM132 278h1v1h-1zM131 279h1v1h-1zM130 280h1v1h-1zM129 281h1v1h-1zM128 282h1v1h-1zM128 283h1v1h-1zM127 284h1v1h-1zM126 285h1v1h-1zM125 286h1v1h-1zM124 287h1v1h-1zM123 288h1v1h-1zM123 289h1v1h-1zM122 290h1v1h-1zM122 291h1v1h-1zM121 292h1v1h-1zM121 293h1v1h-1zM120 294h1v1h-1zM119 295h1v1h-1zM119 296h1v1h-1zM118 297h1v1h-1zM118 298h1v1h-1zM117 299h1v1h-1zM117 300h1v1h-1zM116 301h1v1h-1zM115 302h1v1h-1zM114 303h1v1h-1zM114 304h1v1h-1zM113 305h1v1h-1zM112 306h1v1h-1zM111 307h1v1h-1zM110 308h1v1h-1zM110 309h1v1h-1zM109 310h1v1h-1zM108 311h1v1h-1zM107 312h1v1h-1zM105 313h2v1h-2zM104 314h1v1h-1zM103 315h1v1h-1zM101 316h2v1h-2zM100 317h1v1h-1zM99 318h1v1h-1zM97 319h2v1h-2zM96 320h1v1h-1zM95 321h1v1h-1zM93 322h2v1h-2zM84 323h9v1h-9zM82 324h2v1h-2zM80 325h2v1h-2zM78 326h2v1h-2zM75 327h3v1h-3zM71 328h4v1h-4zM68 329h3v1h-3zM67 330h1v1h-1zM65 331h2v1h-2zM64 332h1v1h-1zM63 333h1v1h-1zM61 334h2v1h-2zM60 335h1v1h-1zM58 336h2v1h-2zM57 337h1v1h-1zM55 338h2v1h-2zM53 339h2v1h-2zM52 340h1v1h-1zM50 341h2v1h-2zM48 342h2v1h-2zM46 343h2v1h-2zM44 344h2v1h-2zM42 345h2v1h-2zM41 346h1v1h-1zM39 347h2v1h-2zM37 348h2v1h-2zM36 349h1v1h-1zM35 350h1v1h-1zM34 351h1v1h-1zM33 352h1v1h-1zM32 353h1v1h-1zM31 354h1v1h-1zM30 355h1v1h-1zM29 356h1v1h-1zM28 357h1v1h-1zM27 358h1v1h-1zM27 359h1v1h-1zM26 360h1v1h-1zM26 361h1v1h-1zM25 362h1v1h-1zM25 363h1v1h-1zM24 364h1v1h-1zM23 365h1v1h-1zM23 366h1v1h-1zM22 367h1v1h-1zM21 368h1v1h-1zM21 369h1v1h-1zM19 370h2v1h-2zM17 371h2v1h-2zM14 372h3v1h-3zM12 373h2v1h-2zM10 374h2v1h-2zM8 375h2v1h-2zM6 376h2v1h-2zM4 377h2v1h-2z" fill="#0000ff" />
<path d="M10 396h5v1h-5zM10 404h5v1h-5zM8 398h1v5h-1zM16 398h1v5h-1zM9 397h1v1h-1zM9 403h1v1h-1zM15 397h1v1h-1zM15 403h1v1h-1z" fill="#000"/>
<path d="M474 56h5v1h-5zM474 64h5v1h-5zM472 58h1v5h-1zM480 58h1v5h-1zM473 57h1v1h-1zM473 63h1v1h-1zM479 57h1v1h-1zM479 63h1v1h-1z" fill="#000"/>
<rect x="0" y="60" width="541" height="1" fill="#000" />
<rect x="0" y="400" width="541" height="1" fill="#000" />
<rect x="0" y="60" width="1" height="341" fill="#000" />
<rect x="540" y="60" width="1" height="341" fill="#000" />
<text x="550" y="60" font-size="11" fill="#000" font-weight="normal" textLength="36" lengthAdjust="spacingAndGlyphs"  stroke="#000" stroke-width="0.3">377.54</text>
<text x="550" y="79" font-size="11" fill="#000" font-weight="normal" textLength="36" lengthAdjust="spacingAndGlyphs"  stroke="#000" stroke-width="0.3">348.85</text>
<text x="550" y="100" font-size="11" fill="#000" font-weight="normal" textLength="36" lengthAdjust="spacingAndGlyphs"  stroke="#000" stroke-width="0.3">320.17</text>
<text x="550" y="122" font-size="11" fill="#000" font-weight="normal" textLength="36" lengthAdjust="spacingAndGlyphs"  stroke="#000" stroke-width="0.3">291.48</text>
<text x="550" y="174" font-size="11" fill="#000" font-weight="normal" textLength="36" lengthAdjust="spacingAndGlyphs"  stroke="#000" stroke-width="0.3">234.11</text>
<text x="550" y="206" font-size="11" fill="#000" font-weight="normal" textLength="36" lengthAdjust="spacingAndGlyphs"  stroke="#000" stroke-width="0.3">205.42</text>
<text x="550" y="284" font-size="11" fill="#000" font-weight="normal" textLength="36" lengthAdjust="spacingAndGlyphs"  stroke="#000" stroke-width="0.3">148.05</text>
<text x="550" y="335" font-size="11" fill="#000" font-weight="normal" textLength="36" lengthAdjust="spacingAndGlyphs"  stroke="#000" stroke-width="0.3">119.37</text>
<text x="550" y="401" font-size="11" fill="#000" font-weight="normal" textLength="30" lengthAdjust="spacingAndGlyphs"  stroke="#000" stroke-width="0.3">90.68</text>
<text x="545" y="142" font-size="7.7" fill="#ff7f00" font-weight="bold" textLength="30" lengthAdjust="spacingAndGlyphs" >269.63</text>
<text x="545" y="191" font-size="7.7" fill="#ff7f00" font-weight="bold" textLength="30" lengthAdjust="spacingAndGlyphs" >218.94</text>
<text x="545" y="232" font-size="7.7" fill="#ff7f00" font-weight="bold" textLength="30" lengthAdjust="spacingAndGlyphs" >185.03</text>
<text x="545" y="272" font-size="7.7" fill="#ff7f00" font-weight="bold" textLength="30" lengthAdjust="spacingAndGlyphs" >156.37</text>
<text transform="translate(599,242) rotate(-90)" font-size="11" fill="#808080" textLength="162" lengthAdjust="spacingAndGlyphs">Split and Dividend Adjusted</text>
<text transform="translate(599,372) rotate(-90)" font-size="11" fill="#808080" textLength="66" lengthAdjust="spacingAndGlyphs">Logarithmic</text>
<rect x="273" y="401" width="128" height="9" fill="#c9f5fb" />
<text x="5" y="410" font-size="11" fill="#000" font-weight="normal" textLength="168" lengthAdjust="spacingAndGlyphs"  stroke="#000" stroke-width="0.3">14 Month SMA Volume: 30.11 M</text>
<text x="274" y="410" font-size="11" fill="#000" font-weight="normal" textLength="90" lengthAdjust="spacingAndGlyphs"  stroke="#000" stroke-width="0.3">Volume By Price</text>
<text x="430" y="410" font-size="11" fill="#000" font-weight="normal" textLength="78" lengthAdjust="spacingAndGlyphs"  stroke="#000" stroke-width="0.3">MONTHLY CHART</text>
<rect x="40" y="411" width="1" height="59" fill="#d2d2d2" />
<rect x="80" y="411" width="1" height="59" fill="#d2d2d2" />
<rect x="120" y="411" width="1" height="59" fill="#d2d2d2" />
<rect x="160" y="411" width="1" height="59" fill="#d2d2d2" />
<rect x="200" y="411" width="1" height="59" fill="#d2d2d2" />
<rect x="240" y="411" width="1" height="59" fill="#d2d2d2" />
<rect x="280" y="411" width="1" height="59" fill="#d2d2d2" />
<rect x="320" y="411" width="1" height="59" fill="#d2d2d2" />
<rect x="360" y="411" width="1" height="59" fill="#d2d2d2" />
<rect x="400" y="411" width="1" height="59" fill="#d2d2d2" />
<rect x="480" y="411" width="1" height="59" fill="#d2d2d2" />
<rect x="520" y="411" width="1" height="59" fill="#d2d2d2" />
<rect x="440" y="411" width="1" height="59" fill="#d2d2d2" />
<rect x="1" y="430" width="539" height="1" fill="#b4b4b4" />
<rect x="1" y="450" width="539" height="1" fill="#b4b4b4" />
<rect x="2" y="447" width="6" height="23" fill="#ff0000" />
<rect x="10" y="436" width="6" height="34" fill="#008a00" />
<rect x="18" y="445" width="6" height="25" fill="#ff0000" />
<rect x="26" y="441" width="6" height="29" fill="#008a00" />
<rect x="34" y="448" width="6" height="22" fill="#008a00" />
<rect x="42" y="437" width="6" height="33" fill="#ff0000" />
<rect x="50" y="448" width="6" height="22" fill="#ff0000" />
<rect x="58" y="449" width="6" height="21" fill="#008a00" />
<rect x="66" y="448" width="6" height="22" fill="#008a00" />
<rect x="74" y="452" width="6" height="18" fill="#ff0000" />
<rect x="82" y="452" width="6" height="18" fill="#008a00" />
<rect x="90" y="445" width="6" height="25" fill="#ff0000" />
<rect x="98" y="447" width="6" height="23" fill="#008a00" />
<rect x="106" y="446" width="6" height="24" fill="#008a00" />
<rect x="114" y="439" width="6" height="31" fill="#008a00" />
<rect x="122" y="440" width="6" height="30" fill="#008a00" />
<rect x="130" y="440" width="6" height="30" fill="#ff0000" />
<rect x="138" y="419" width="6" height="51" fill="#008a00" />
<rect x="146" y="434" width="6" height="36" fill="#ff0000" />
<rect x="154" y="450" width="6" height="20" fill="#008a00" />
<rect x="162" y="444" width="6" height="26" fill="#008a00" />
<rect x="170" y="444" width="6" height="26" fill="#ff0000" />
<rect x="178" y="445" width="6" height="25" fill="#008a00" />
<rect x="186" y="419" width="6" height="51" fill="#008a00" />
<rect x="194" y="436" width="6" height="34" fill="#ff0000" />
<rect x="202" y="439" width="6" height="31" fill="#008a00" />
<rect x="210" y="439" width="6" height="31" fill="#ff0000" />
<rect x="218" y="438" width="6" height="32" fill="#008a00" />
<rect x="226" y="451" width="6" height="19" fill="#008a00" />
<rect x="234" y="428" width="6" height="42" fill="#008a00" />
<rect x="242" y="438" width="6" height="32" fill="#008a00" />
<rect x="250" y="443" width="6" height="27" fill="#ff0000" />
<rect x="258" y="411" width="6" height="59" fill="#ff0000" />
<rect x="266" y="438" width="6" height="32" fill="#008a00" />
<rect x="274" y="441" width="6" height="29" fill="#008a00" />
<rect x="282" y="426" width="6" height="44" fill="#008a00" />
<rect x="290" y="440" width="6" height="30" fill="#008a00" />
<rect x="298" y="437" width="6" height="33" fill="#008a00" />
<rect x="306" y="437" width="6" height="33" fill="#008a00" />
<rect x="314" y="444" width="6" height="26" fill="#008a00" />
<rect x="322" y="441" width="6" height="29" fill="#ff0000" />
<rect x="330" y="428" width="6" height="42" fill="#ff0000" />
<rect x="338" y="430" width="6" height="40" fill="#008a00" />
<rect x="346" y="439" width="6" height="31" fill="#008a00" />
<rect x="354" y="437" width="6" height="33" fill="#ff0000" />
<rect x="362" y="427" width="6" height="43" fill="#ff0000" />
<rect x="370" y="435" width="6" height="35" fill="#008a00" />
<rect x="378" y="440" width="6" height="30" fill="#008a00" />
<rect x="386" y="442" width="6" height="28" fill="#ff0000" />
<rect x="394" y="440" width="6" height="30" fill="#008a00" />
<rect x="402" y="434" width="6" height="36" fill="#ff0000" />
<rect x="410" y="428" width="6" height="42" fill="#008a00" />
<rect x="418" y="421" width="6" height="49" fill="#008a00" />
<rect x="426" y="427" width="6" height="43" fill="#008a00" />
<rect x="434" y="438" width="6" height="32" fill="#008a00" />
<rect x="442" y="443" width="6" height="27" fill="#ff0000" />
<rect x="450" y="437" width="6" height="33" fill="#008a00" />
<rect x="458" y="429" width="6" height="41" fill="#008a00" />
<rect x="466" y="441" width="6" height="29" fill="#008a00" />
<rect x="474" y="433" width="6" height="37" fill="#008a00" />
<rect x="482" y="433" width="6" height="37" fill="#ff0000" />
<rect x="490" y="443" width="6" height="27" fill="#008a00" />
<rect x="498" y="440" width="6" height="30" fill="#008a00" />
<rect x="506" y="431" width="6" height="39" fill="#ff0000" />
<rect x="514" y="441" width="6" height="29" fill="#ff0000" />
<path d="M425 433h16v1h-16zM289 434h8v1h-8zM337 434h16v1h-16zM361 434h8v1h-8zM419 434h6v1h-6zM441 434h8v1h-8zM456 434h15v1h-15zM479 434h8v1h-8zM503 434h9v1h-9zM273 435h16v1h-16zM297 435h8v1h-8zM329 435h8v1h-8zM353 435h8v1h-8zM369 435h8v1h-8zM403 435h6v1h-6zM415 435h4v1h-4zM449 435h7v1h-7zM471 435h8v1h-8zM487 435h16v1h-16zM512 435h6v1h-6zM265 436h8v1h-8zM305 436h24v1h-24zM377 436h8v1h-8zM399 436h4v1h-4zM409 436h6v1h-6zM217 437h8v1h-8zM233 437h14v1h-14zM259 437h6v1h-6zM385 437h14v1h-14zM201 438h16v1h-16zM225 438h8v1h-8zM247 438h4v1h-4zM255 438h4v1h-4zM4 439h17v1h-17zM193 439h8v1h-8zM251 439h4v1h-4zM21 440h12v1h-12zM187 440h6v1h-6zM33 441h8v1h-8zM185 441h2v1h-2zM41 442h8v1h-8zM182 442h3v1h-3zM49 443h8v1h-8zM146 443h36v1h-36zM57 444h8v1h-8zM133 444h13v1h-13zM65 445h8v1h-8zM117 445h16v1h-16zM73 446h44v1h-44z" fill="#000" />
<rect x="0" y="410" width="541" height="1" fill="#000" />
<rect x="0" y="470" width="541" height="1" fill="#000" />
<rect x="0" y="410" width="1" height="61" fill="#000" />
<rect x="540" y="410" width="1" height="61" fill="#000" />
<text x="550" y="415" font-size="7.7" fill="#000" font-weight="bold" textLength="35" lengthAdjust="spacingAndGlyphs" >51.93 M</text>
<text x="550" y="435" font-size="7.7" fill="#000" font-weight="bold" textLength="35" lengthAdjust="spacingAndGlyphs" >34.62 M</text>
<text x="550" y="455" font-size="7.7" fill="#000" font-weight="bold" textLength="35" lengthAdjust="spacingAndGlyphs" >17.31 M</text>
<text x="5" y="480" font-size="11" fill="#000" font-weight="normal" textLength="174" lengthAdjust="spacingAndGlyphs"  stroke="#000" stroke-width="0.3">14 Month Fast Stochastic (%K)</text>
<text x="185" y="480" font-size="11" fill="#990033" font-weight="normal" textLength="24" lengthAdjust="spacingAndGlyphs"  stroke="#990033" stroke-width="0.3">(%D)</text>
<text x="209" y="480" font-size="11" fill="#000" font-weight="normal" textLength="36" lengthAdjust="spacingAndGlyphs"  stroke="#000" stroke-width="0.3">: 49.2</text>
<text x="257" y="480" font-size="11" fill="#990033" font-weight="normal" textLength="24" lengthAdjust="spacingAndGlyphs"  stroke="#990033" stroke-width="0.3">66.8</text>
<clipPath id="c80"><rect x="1" y="481" width="539" height="11.5"/></clipPath>
<polygon points="4.5,492.5 4.5,496.6 12.5,494.0 20.5,495.4 28.5,490.4 36.5,487.0 44.5,486.0 52.5,489.0 60.5,491.0 68.5,489.6 76.5,490.0 84.5,491.0 92.5,495.4 100.5,491.0 108.5,488.3 116.5,482.0 124.5,481.3 132.5,486.4 140.5,490.0 148.5,496.0 156.5,500.0 164.5,502.0 172.5,505.4 180.5,502.0 188.5,497.6 196.5,490.4 204.5,485.6 212.5,486.0 220.5,494.5 228.5,497.0 236.5,495.0 244.5,490.0 252.5,485.0 260.5,487.6 268.5,492.0 276.5,493.6 284.5,488.5 292.5,484.0 300.5,481.5 308.5,481.0 316.5,481.6 324.5,483.0 332.5,487.0 340.5,490.7 348.5,491.0 356.5,489.6 364.5,490.4 372.5,492.4 380.5,491.0 388.5,493.6 396.5,490.4 404.5,493.6 412.5,486.0 420.5,484.4 428.5,485.0 436.5,486.0 444.5,490.5 452.5,492.0 460.5,489.9 468.5,487.0 476.5,484.0 484.5,488.0 492.5,488.0 500.5,488.5 508.5,492.5 516.5,499.5 516.5,492.5" fill="#cccc99" clip-path="url(#c80)"/>
<rect x="40" y="481" width="1" height="59" fill="#d2d2d2" />
<rect x="80" y="481" width="1" height="59" fill="#d2d2d2" />
<rect x="120" y="481" width="1" height="59" fill="#d2d2d2" />
<rect x="160" y="481" width="1" height="59" fill="#d2d2d2" />
<rect x="200" y="481" width="1" height="59" fill="#d2d2d2" />
<rect x="240" y="481" width="1" height="59" fill="#d2d2d2" />
<rect x="280" y="481" width="1" height="59" fill="#d2d2d2" />
<rect x="320" y="481" width="1" height="59" fill="#d2d2d2" />
<rect x="360" y="481" width="1" height="59" fill="#d2d2d2" />
<rect x="400" y="481" width="1" height="59" fill="#d2d2d2" />
<rect x="480" y="481" width="1" height="59" fill="#d2d2d2" />
<rect x="520" y="481" width="1" height="59" fill="#d2d2d2" />
<rect x="440" y="481" width="1" height="59" fill="#d2d2d2" />
<rect x="1" y="492" width="539" height="1" fill="#b4b4b4" />
<rect x="1" y="528" width="539" height="1" fill="#b4b4b4" />
<rect x="1" y="510" width="3" height="1" fill="#a0a0a0" />
<rect x="7" y="510" width="4" height="1" fill="#a0a0a0" />
<rect x="15" y="510" width="4" height="1" fill="#a0a0a0" />
<rect x="23" y="510" width="4" height="1" fill="#a0a0a0" />
<rect x="31" y="510" width="4" height="1" fill="#a0a0a0" />
<rect x="39" y="510" width="4" height="1" fill="#a0a0a0" />
<rect x="47" y="510" width="4" height="1" fill="#a0a0a0" />
<rect x="55" y="510" width="4" height="1" fill="#a0a0a0" />
<rect x="63" y="510" width="4" height="1" fill="#a0a0a0" />
<rect x="71" y="510" width="4" height="1" fill="#a0a0a0" />
<rect x="79" y="510" width="4" height="1" fill="#a0a0a0" />
<rect x="87" y="510" width="4" height="1" fill="#a0a0a0" />
<rect x="95" y="510" width="4" height="1" fill="#a0a0a0" />
<rect x="103" y="510" width="4" height="1" fill="#a0a0a0" />
<rect x="111" y="510" width="4" height="1" fill="#a0a0a0" />
<rect x="119" y="510" width="4" height="1" fill="#a0a0a0" />
<rect x="127" y="510" width="4" height="1" fill="#a0a0a0" />
<rect x="135" y="510" width="4" height="1" fill="#a0a0a0" />
<rect x="143" y="510" width="4" height="1" fill="#a0a0a0" />
<rect x="151" y="510" width="4" height="1" fill="#a0a0a0" />
<rect x="159" y="510" width="4" height="1" fill="#a0a0a0" />
<rect x="167" y="510" width="4" height="1" fill="#a0a0a0" />
<rect x="175" y="510" width="4" height="1" fill="#a0a0a0" />
<rect x="183" y="510" width="4" height="1" fill="#a0a0a0" />
<rect x="191" y="510" width="4" height="1" fill="#a0a0a0" />
<rect x="199" y="510" width="4" height="1" fill="#a0a0a0" />
<rect x="207" y="510" width="4" height="1" fill="#a0a0a0" />
<rect x="215" y="510" width="4" height="1" fill="#a0a0a0" />
<rect x="223" y="510" width="4" height="1" fill="#a0a0a0" />
<rect x="231" y="510" width="4" height="1" fill="#a0a0a0" />
<rect x="239" y="510" width="4" height="1" fill="#a0a0a0" />
<rect x="247" y="510" width="4" height="1" fill="#a0a0a0" />
<rect x="255" y="510" width="4" height="1" fill="#a0a0a0" />
<rect x="263" y="510" width="4" height="1" fill="#a0a0a0" />
<rect x="271" y="510" width="4" height="1" fill="#a0a0a0" />
<rect x="279" y="510" width="4" height="1" fill="#a0a0a0" />
<rect x="287" y="510" width="4" height="1" fill="#a0a0a0" />
<rect x="295" y="510" width="4" height="1" fill="#a0a0a0" />
<rect x="303" y="510" width="4" height="1" fill="#a0a0a0" />
<rect x="311" y="510" width="4" height="1" fill="#a0a0a0" />
<rect x="319" y="510" width="4" height="1" fill="#a0a0a0" />
<rect x="327" y="510" width="4" height="1" fill="#a0a0a0" />
<rect x="335" y="510" width="4" height="1" fill="#a0a0a0" />
<rect x="343" y="510" width="4" height="1" fill="#a0a0a0" />
<rect x="351" y="510" width="4" height="1" fill="#a0a0a0" />
<rect x="359" y="510" width="4" height="1" fill="#a0a0a0" />
<rect x="367" y="510" width="4" height="1" fill="#a0a0a0" />
<rect x="375" y="510" width="4" height="1" fill="#a0a0a0" />
<rect x="383" y="510" width="4" height="1" fill="#a0a0a0" />
<rect x="391" y="510" width="4" height="1" fill="#a0a0a0" />
<rect x="399" y="510" width="4" height="1" fill="#a0a0a0" />
<rect x="407" y="510" width="4" height="1" fill="#a0a0a0" />
<rect x="415" y="510" width="4" height="1" fill="#a0a0a0" />
<rect x="423" y="510" width="4" height="1" fill="#a0a0a0" />
<rect x="431" y="510" width="4" height="1" fill="#a0a0a0" />
<rect x="439" y="510" width="4" height="1" fill="#a0a0a0" />
<rect x="447" y="510" width="4" height="1" fill="#a0a0a0" />
<rect x="455" y="510" width="4" height="1" fill="#a0a0a0" />
<rect x="463" y="510" width="4" height="1" fill="#a0a0a0" />
<rect x="471" y="510" width="4" height="1" fill="#a0a0a0" />
<rect x="479" y="510" width="4" height="1" fill="#a0a0a0" />
<rect x="487" y="510" width="4" height="1" fill="#a0a0a0" />
<rect x="495" y="510" width="4" height="1" fill="#a0a0a0" />
<rect x="503" y="510" width="4" height="1" fill="#a0a0a0" />
<rect x="511" y="510" width="4" height="1" fill="#a0a0a0" />
<rect x="519" y="510" width="4" height="1" fill="#a0a0a0" />
<rect x="527" y="510" width="4" height="1" fill="#a0a0a0" />
<rect x="535" y="510" width="4" height="1" fill="#a0a0a0" />
<path d="M121 481h4v1h-4zM299 481h20v1h-20zM116 482h5v1h-5zM125 482h2v1h-2zM297 482h2v1h-2zM319 482h4v1h-4zM115 483h1v1h-1zM127 483h2v1h-2zM294 483h3v1h-3zM323 483h3v1h-3zM113 484h2v1h-2zM129 484h1v1h-1zM292 484h2v1h-2zM326 484h2v1h-2zM419 484h6v1h-6zM475 484h3v1h-3zM112 485h1v1h-1zM130 485h2v1h-2zM204 485h5v1h-5zM252 485h3v1h-3zM290 485h2v1h-2zM328 485h2v1h-2zM415 485h4v1h-4zM425 485h8v1h-8zM473 485h2v1h-2zM478 485h2v1h-2zM41 486h5v1h-5zM111 486h1v1h-1zM132 486h2v1h-2zM202 486h2v1h-2zM209 486h4v1h-4zM250 486h2v1h-2zM255 486h4v1h-4zM288 486h2v1h-2zM330 486h2v1h-2zM412 486h3v1h-3zM433 486h5v1h-5zM470 486h3v1h-3zM480 486h2v1h-2zM35 487h6v1h-6zM46 487h3v1h-3zM109 487h2v1h-2zM134 487h2v1h-2zM201 487h1v1h-1zM213 487h1v1h-1zM249 487h1v1h-1zM259 487h2v1h-2zM286 487h2v1h-2zM332 487h2v1h-2zM411 487h1v1h-1zM438 487h2v1h-2zM467 487h3v1h-3zM482 487h2v1h-2zM33 488h2v1h-2zM49 488h2v1h-2zM107 488h2v1h-2zM136 488h2v1h-2zM199 488h2v1h-2zM214 488h1v1h-1zM247 488h2v1h-2zM261 488h2v1h-2zM284 488h2v1h-2zM334 488h3v1h-3zM410 488h1v1h-1zM440 488h2v1h-2zM463 488h4v1h-4zM484 488h18v1h-18zM30 489h3v1h-3zM51 489h4v1h-4zM67 489h6v1h-6zM105 489h2v1h-2zM138 489h2v1h-2zM197 489h2v1h-2zM215 489h1v1h-1zM245 489h2v1h-2zM263 489h2v1h-2zM282 489h2v1h-2zM337 489h2v1h-2zM355 489h6v1h-6zM409 489h1v1h-1zM442 489h2v1h-2zM459 489h4v1h-4zM502 489h2v1h-2zM28 490h2v1h-2zM55 490h4v1h-4zM63 490h4v1h-4zM73 490h8v1h-8zM102 490h3v1h-3zM140 490h1v1h-1zM196 490h1v1h-1zM216 490h1v1h-1zM244 490h1v1h-1zM265 490h1v1h-1zM281 490h1v1h-1zM339 490h6v1h-6zM351 490h4v1h-4zM361 490h6v1h-6zM395 490h3v1h-3zM407 490h2v1h-2zM444 490h3v1h-3zM457 490h2v1h-2zM504 490h2v1h-2zM26 491h2v1h-2zM59 491h4v1h-4zM81 491h5v1h-5zM100 491h2v1h-2zM141 491h2v1h-2zM195 491h1v1h-1zM217 491h1v1h-1zM242 491h2v1h-2zM266 491h2v1h-2zM279 491h2v1h-2zM345 491h6v1h-6zM367 491h4v1h-4zM377 491h6v1h-6zM393 491h2v1h-2zM398 491h3v1h-3zM406 491h1v1h-1zM447 491h4v1h-4zM454 491h3v1h-3zM506 491h2v1h-2zM25 492h1v1h-1zM86 492h2v1h-2zM98 492h2v1h-2zM143 492h1v1h-1zM194 492h1v1h-1zM218 492h1v1h-1zM241 492h1v1h-1zM268 492h5v1h-5zM277 492h2v1h-2zM371 492h6v1h-6zM383 492h4v1h-4zM390 492h3v1h-3zM401 492h2v1h-2zM405 492h1v1h-1zM451 492h3v1h-3zM508 492h1v1h-1zM23 493h2v1h-2zM88 493h2v1h-2zM96 493h2v1h-2zM144 493h1v1h-1zM193 493h1v1h-1zM219 493h1v1h-1zM239 493h2v1h-2zM273 493h4v1h-4zM387 493h3v1h-3zM403 493h2v1h-2zM509 493h1v1h-1zM11 494h6v1h-6zM21 494h2v1h-2zM90 494h2v1h-2zM94 494h2v1h-2zM145 494h2v1h-2zM191 494h2v1h-2zM220 494h2v1h-2zM237 494h2v1h-2zM510 494h1v1h-1zM7 495h4v1h-4zM17 495h4v1h-4zM92 495h2v1h-2zM147 495h1v1h-1zM190 495h1v1h-1zM222 495h3v1h-3zM235 495h2v1h-2zM511 495h2v1h-2zM4 496h3v1h-3zM148 496h2v1h-2zM189 496h1v1h-1zM225 496h2v1h-2zM231 496h4v1h-4zM513 496h1v1h-1zM150 497h2v1h-2zM188 497h1v1h-1zM227 497h4v1h-4zM514 497h1v1h-1zM152 498h2v1h-2zM186 498h2v1h-2zM515 498h1v1h-1zM154 499h2v1h-2zM185 499h1v1h-1zM516 499h1v1h-1zM156 500h3v1h-3zM183 500h2v1h-2zM159 501h4v1h-4zM181 501h2v1h-2zM163 502h3v1h-3zM179 502h2v1h-2zM166 503h3v1h-3zM177 503h2v1h-2zM169 504h2v1h-2zM174 504h3v1h-3zM171 505h3v1h-3z" fill="#a50036" />
<path d="M188 480h1v1h-1zM244 480h1v1h-1zM284 480h19v1h-19zM460 480h2v1h-2zM35 481h2v1h-2zM107 481h14v1h-14zM187 481h1v1h-1zM189 481h1v1h-1zM243 481h1v1h-1zM245 481h1v1h-1zM283 481h1v1h-1zM303 481h4v1h-4zM313 481h5v1h-5zM380 481h1v1h-1zM459 481h1v1h-1zM462 481h2v1h-2zM33 482h2v1h-2zM37 482h1v1h-1zM103 482h4v1h-4zM121 482h4v1h-4zM187 482h1v1h-1zM190 482h1v1h-1zM242 482h1v1h-1zM246 482h1v1h-1zM282 482h1v1h-1zM307 482h6v1h-6zM318 482h3v1h-3zM379 482h2v1h-2zM417 482h4v1h-4zM458 482h1v1h-1zM464 482h2v1h-2zM500 482h1v1h-1zM30 483h3v1h-3zM37 483h1v1h-1zM100 483h3v1h-3zM125 483h1v1h-1zM186 483h1v1h-1zM191 483h1v1h-1zM241 483h1v1h-1zM247 483h2v1h-2zM282 483h1v1h-1zM321 483h2v1h-2zM379 483h1v1h-1zM381 483h1v1h-1zM412 483h5v1h-5zM421 483h1v1h-1zM458 483h1v1h-1zM466 483h2v1h-2zM473 483h4v1h-4zM499 483h2v1h-2zM28 484h2v1h-2zM38 484h1v1h-1zM100 484h1v1h-1zM125 484h1v1h-1zM185 484h1v1h-1zM192 484h1v1h-1zM240 484h1v1h-1zM249 484h1v1h-1zM281 484h1v1h-1zM323 484h2v1h-2zM378 484h1v1h-1zM381 484h1v1h-1zM410 484h2v1h-2zM422 484h1v1h-1zM457 484h1v1h-1zM468 484h5v1h-5zM477 484h1v1h-1zM497 484h2v1h-2zM501 484h1v1h-1zM27 485h1v1h-1zM39 485h1v1h-1zM60 485h2v1h-2zM99 485h1v1h-1zM126 485h1v1h-1zM184 485h1v1h-1zM193 485h1v1h-1zM203 485h2v1h-2zM240 485h1v1h-1zM250 485h1v1h-1zM280 485h1v1h-1zM325 485h1v1h-1zM353 485h4v1h-4zM378 485h1v1h-1zM381 485h1v1h-1zM409 485h1v1h-1zM423 485h1v1h-1zM456 485h1v1h-1zM477 485h1v1h-1zM496 485h1v1h-1zM501 485h1v1h-1zM27 486h1v1h-1zM39 486h1v1h-1zM59 486h1v1h-1zM62 486h2v1h-2zM99 486h1v1h-1zM127 486h1v1h-1zM184 486h1v1h-1zM194 486h1v1h-1zM201 486h2v1h-2zM204 486h1v1h-1zM239 486h1v1h-1zM251 486h1v1h-1zM279 486h1v1h-1zM326 486h1v1h-1zM348 486h5v1h-5zM357 486h1v1h-1zM377 486h1v1h-1zM382 486h1v1h-1zM396 486h3v1h-3zM407 486h2v1h-2zM424 486h1v1h-1zM436 486h1v1h-1zM455 486h1v1h-1zM478 486h1v1h-1zM495 486h1v1h-1zM501 486h1v1h-1zM26 487h1v1h-1zM40 487h1v1h-1zM58 487h1v1h-1zM64 487h2v1h-2zM98 487h1v1h-1zM127 487h1v1h-1zM183 487h1v1h-1zM195 487h1v1h-1zM198 487h3v1h-3zM205 487h1v1h-1zM238 487h1v1h-1zM252 487h1v1h-1zM278 487h1v1h-1zM327 487h1v1h-1zM347 487h1v1h-1zM357 487h1v1h-1zM376 487h1v1h-1zM382 487h1v1h-1zM396 487h1v1h-1zM399 487h4v1h-4zM405 487h2v1h-2zM424 487h1v1h-1zM434 487h2v1h-2zM437 487h1v1h-1zM454 487h1v1h-1zM479 487h1v1h-1zM493 487h2v1h-2zM502 487h1v1h-1zM25 488h1v1h-1zM41 488h1v1h-1zM57 488h1v1h-1zM66 488h2v1h-2zM98 488h1v1h-1zM128 488h1v1h-1zM182 488h1v1h-1zM196 488h2v1h-2zM205 488h1v1h-1zM237 488h1v1h-1zM253 488h1v1h-1zM278 488h1v1h-1zM328 488h1v1h-1zM346 488h1v1h-1zM358 488h1v1h-1zM376 488h1v1h-1zM382 488h1v1h-1zM395 488h1v1h-1zM403 488h2v1h-2zM425 488h1v1h-1zM433 488h1v1h-1zM438 488h1v1h-1zM454 488h1v1h-1zM479 488h1v1h-1zM492 488h1v1h-1zM502 488h1v1h-1zM25 489h1v1h-1zM41 489h1v1h-1zM56 489h1v1h-1zM68 489h1v1h-1zM97 489h1v1h-1zM129 489h1v1h-1zM181 489h1v1h-1zM206 489h1v1h-1zM235 489h2v1h-2zM253 489h1v1h-1zM277 489h1v1h-1zM328 489h1v1h-1zM345 489h1v1h-1zM359 489h1v1h-1zM375 489h1v1h-1zM383 489h1v1h-1zM395 489h1v1h-1zM426 489h1v1h-1zM431 489h2v1h-2zM439 489h1v1h-1zM453 489h1v1h-1zM480 489h1v1h-1zM491 489h1v1h-1zM502 489h1v1h-1zM24 490h1v1h-1zM42 490h1v1h-1zM56 490h1v1h-1zM69 490h2v1h-2zM84 490h1v1h-1zM97 490h1v1h-1zM129 490h1v1h-1zM181 490h1v1h-1zM206 490h1v1h-1zM231 490h4v1h-4zM254 490h1v1h-1zM276 490h1v1h-1zM329 490h1v1h-1zM344 490h1v1h-1zM359 490h1v1h-1zM374 490h1v1h-1zM383 490h1v1h-1zM394 490h1v1h-1zM427 490h1v1h-1zM429 490h2v1h-2zM440 490h1v1h-1zM452 490h1v1h-1zM481 490h1v1h-1zM490 490h1v1h-1zM503 490h1v1h-1zM23 491h1v1h-1zM43 491h1v1h-1zM55 491h1v1h-1zM71 491h2v1h-2zM82 491h2v1h-2zM85 491h1v1h-1zM96 491h1v1h-1zM130 491h1v1h-1zM180 491h1v1h-1zM207 491h1v1h-1zM228 491h3v1h-3zM255 491h1v1h-1zM274 491h2v1h-2zM330 491h1v1h-1zM343 491h1v1h-1zM360 491h1v1h-1zM374 491h1v1h-1zM383 491h1v1h-1zM394 491h1v1h-1zM428 491h1v1h-1zM440 491h1v1h-1zM450 491h2v1h-2zM481 491h1v1h-1zM489 491h1v1h-1zM503 491h1v1h-1zM12 492h2v1h-2zM23 492h1v1h-1zM43 492h1v1h-1zM54 492h1v1h-1zM73 492h1v1h-1zM80 492h2v1h-2zM86 492h1v1h-1zM96 492h1v1h-1zM131 492h1v1h-1zM139 492h2v1h-2zM180 492h1v1h-1zM207 492h1v1h-1zM227 492h1v1h-1zM256 492h1v1h-1zM272 492h2v1h-2zM331 492h1v1h-1zM342 492h1v1h-1zM361 492h1v1h-1zM373 492h1v1h-1zM384 492h1v1h-1zM393 492h1v1h-1zM441 492h1v1h-1zM449 492h1v1h-1zM482 492h1v1h-1zM487 492h2v1h-2zM503 492h1v1h-1zM11 493h1v1h-1zM14 493h2v1h-2zM22 493h1v1h-1zM44 493h5v1h-5zM53 493h1v1h-1zM74 493h2v1h-2zM78 493h2v1h-2zM86 493h1v1h-1zM95 493h1v1h-1zM131 493h1v1h-1zM135 493h4v1h-4zM141 493h1v1h-1zM179 493h1v1h-1zM208 493h1v1h-1zM226 493h1v1h-1zM256 493h1v1h-1zM270 493h2v1h-2zM332 493h5v1h-5zM341 493h1v1h-1zM361 493h1v1h-1zM373 493h1v1h-1zM384 493h1v1h-1zM393 493h1v1h-1zM442 493h1v1h-1zM447 493h2v1h-2zM483 493h1v1h-1zM486 493h1v1h-1zM504 493h1v1h-1zM10 494h1v1h-1zM16 494h2v1h-2zM21 494h1v1h-1zM49 494h4v1h-4zM76 494h2v1h-2zM87 494h1v1h-1zM95 494h1v1h-1zM132 494h3v1h-3zM141 494h1v1h-1zM179 494h1v1h-1zM208 494h1v1h-1zM225 494h1v1h-1zM257 494h1v1h-1zM268 494h2v1h-2zM337 494h4v1h-4zM362 494h1v1h-1zM371 494h2v1h-2zM385 494h1v1h-1zM392 494h1v1h-1zM443 494h1v1h-1zM445 494h2v1h-2zM483 494h1v1h-1zM485 494h1v1h-1zM504 494h1v1h-1zM9 495h1v1h-1zM18 495h2v1h-2zM21 495h1v1h-1zM88 495h1v1h-1zM94 495h1v1h-1zM142 495h1v1h-1zM179 495h1v1h-1zM208 495h1v1h-1zM224 495h1v1h-1zM258 495h1v1h-1zM266 495h2v1h-2zM363 495h1v1h-1zM369 495h2v1h-2zM385 495h1v1h-1zM392 495h1v1h-1zM444 495h1v1h-1zM484 495h1v1h-1zM504 495h1v1h-1zM7 496h2v1h-2zM20 496h1v1h-1zM89 496h1v1h-1zM94 496h1v1h-1zM142 496h1v1h-1zM178 496h1v1h-1zM209 496h1v1h-1zM223 496h1v1h-1zM259 496h1v1h-1zM264 496h2v1h-2zM363 496h1v1h-1zM366 496h3v1h-3zM385 496h1v1h-1zM392 496h1v1h-1zM504 496h1v1h-1zM6 497h1v1h-1zM90 497h1v1h-1zM93 497h1v1h-1zM143 497h1v1h-1zM178 497h1v1h-1zM209 497h1v1h-1zM222 497h1v1h-1zM259 497h1v1h-1zM262 497h2v1h-2zM364 497h2v1h-2zM386 497h1v1h-1zM391 497h1v1h-1zM505 497h1v1h-1zM5 498h1v1h-1zM90 498h1v1h-1zM93 498h1v1h-1zM143 498h1v1h-1zM178 498h1v1h-1zM210 498h1v1h-1zM221 498h1v1h-1zM260 498h2v1h-2zM386 498h1v1h-1zM391 498h1v1h-1zM505 498h1v1h-1zM4 499h1v1h-1zM91 499h2v1h-2zM144 499h1v1h-1zM177 499h1v1h-1zM210 499h1v1h-1zM220 499h1v1h-1zM386 499h1v1h-1zM390 499h1v1h-1zM505 499h1v1h-1zM92 500h1v1h-1zM145 500h1v1h-1zM161 500h4v1h-4zM177 500h1v1h-1zM211 500h1v1h-1zM218 500h2v1h-2zM387 500h1v1h-1zM390 500h1v1h-1zM506 500h1v1h-1zM145 501h1v1h-1zM156 501h5v1h-5zM165 501h1v1h-1zM177 501h1v1h-1zM211 501h1v1h-1zM216 501h2v1h-2zM387 501h1v1h-1zM389 501h1v1h-1zM506 501h1v1h-1zM146 502h1v1h-1zM154 502h2v1h-2zM165 502h1v1h-1zM176 502h1v1h-1zM212 502h1v1h-1zM214 502h2v1h-2zM387 502h1v1h-1zM389 502h1v1h-1zM506 502h1v1h-1zM146 503h1v1h-1zM153 503h1v1h-1zM166 503h1v1h-1zM176 503h1v1h-1zM212 503h2v1h-2zM388 503h1v1h-1zM507 503h1v1h-1zM147 504h1v1h-1zM151 504h2v1h-2zM166 504h1v1h-1zM175 504h1v1h-1zM388 504h1v1h-1zM507 504h1v1h-1zM147 505h1v1h-1zM149 505h2v1h-2zM167 505h1v1h-1zM175 505h1v1h-1zM507 505h1v1h-1zM148 506h1v1h-1zM167 506h1v1h-1zM175 506h1v1h-1zM508 506h1v1h-1zM168 507h1v1h-1zM174 507h1v1h-1zM508 507h2v1h-2zM169 508h1v1h-1zM174 508h1v1h-1zM510 508h3v1h-3zM169 509h1v1h-1zM174 509h1v1h-1zM513 509h2v1h-2zM170 510h1v1h-1zM173 510h1v1h-1zM515 510h2v1h-2zM170 511h1v1h-1zM173 511h1v1h-1zM171 512h1v1h-1zM173 512h1v1h-1zM171 513h2v1h-2zM172 514h1v1h-1z" fill="#000" />
<rect x="0" y="480" width="541" height="1" fill="#000" />
<rect x="0" y="540" width="541" height="1" fill="#000" />
<rect x="0" y="480" width="1" height="61" fill="#000" />
<rect x="540" y="480" width="1" height="61" fill="#000" />
<text x="550" y="495" font-size="7.7" fill="#000" font-weight="bold" textLength="15" lengthAdjust="spacingAndGlyphs" >80%</text>
<text x="550" y="513" font-size="7.7" fill="#000" font-weight="bold" textLength="15" lengthAdjust="spacingAndGlyphs" >50%</text>
<text x="550" y="531" font-size="7.7" fill="#000" font-weight="bold" textLength="15" lengthAdjust="spacingAndGlyphs" >20%</text>
<text x="5" y="550" font-size="11" fill="#000" font-weight="normal" textLength="252" lengthAdjust="spacingAndGlyphs"  stroke="#000" stroke-width="0.3">14 Month HCS Intraday Momentum (IMI): 60.8</text>
<rect x="40" y="551" width="1" height="59" fill="#d2d2d2" />
<rect x="80" y="551" width="1" height="59" fill="#d2d2d2" />
<rect x="120" y="551" width="1" height="59" fill="#d2d2d2" />
<rect x="160" y="551" width="1" height="59" fill="#d2d2d2" />
<rect x="200" y="551" width="1" height="59" fill="#d2d2d2" />
<rect x="240" y="551" width="1" height="59" fill="#d2d2d2" />
<rect x="280" y="551" width="1" height="59" fill="#d2d2d2" />
<rect x="320" y="551" width="1" height="59" fill="#d2d2d2" />
<rect x="360" y="551" width="1" height="59" fill="#d2d2d2" />
<rect x="400" y="551" width="1" height="59" fill="#d2d2d2" />
<rect x="480" y="551" width="1" height="59" fill="#d2d2d2" />
<rect x="520" y="551" width="1" height="59" fill="#d2d2d2" />
<rect x="440" y="551" width="1" height="59" fill="#d2d2d2" />
<rect x="1" y="568" width="539" height="1" fill="#b4b4b4" />
<rect x="1" y="592" width="539" height="1" fill="#b4b4b4" />
<rect x="1" y="580" width="3" height="1" fill="#a0a0a0" />
<rect x="7" y="580" width="4" height="1" fill="#a0a0a0" />
<rect x="15" y="580" width="4" height="1" fill="#a0a0a0" />
<rect x="23" y="580" width="4" height="1" fill="#a0a0a0" />
<rect x="31" y="580" width="4" height="1" fill="#a0a0a0" />
<rect x="39" y="580" width="4" height="1" fill="#a0a0a0" />
<rect x="47" y="580" width="4" height="1" fill="#a0a0a0" />
<rect x="55" y="580" width="4" height="1" fill="#a0a0a0" />
<rect x="63" y="580" width="4" height="1" fill="#a0a0a0" />
<rect x="71" y="580" width="4" height="1" fill="#a0a0a0" />
<rect x="79" y="580" width="4" height="1" fill="#a0a0a0" />
<rect x="87" y="580" width="4" height="1" fill="#a0a0a0" />
<rect x="95" y="580" width="4" height="1" fill="#a0a0a0" />
<rect x="103" y="580" width="4" height="1" fill="#a0a0a0" />
<rect x="111" y="580" width="4" height="1" fill="#a0a0a0" />
<rect x="119" y="580" width="4" height="1" fill="#a0a0a0" />
<rect x="127" y="580" width="4" height="1" fill="#a0a0a0" />
<rect x="135" y="580" width="4" height="1" fill="#a0a0a0" />
<rect x="143" y="580" width="4" height="1" fill="#a0a0a0" />
<rect x="151" y="580" width="4" height="1" fill="#a0a0a0" />
<rect x="159" y="580" width="4" height="1" fill="#a0a0a0" />
<rect x="167" y="580" width="4" height="1" fill="#a0a0a0" />
<rect x="175" y="580" width="4" height="1" fill="#a0a0a0" />
<rect x="183" y="580" width="4" height="1" fill="#a0a0a0" />
<rect x="191" y="580" width="4" height="1" fill="#a0a0a0" />
<rect x="199" y="580" width="4" height="1" fill="#a0a0a0" />
<rect x="207" y="580" width="4" height="1" fill="#a0a0a0" />
<rect x="215" y="580" width="4" height="1" fill="#a0a0a0" />
<rect x="223" y="580" width="4" height="1" fill="#a0a0a0" />
<rect x="231" y="580" width="4" height="1" fill="#a0a0a0" />
<rect x="239" y="580" width="4" height="1" fill="#a0a0a0" />
<rect x="247" y="580" width="4" height="1" fill="#a0a0a0" />
<rect x="255" y="580" width="4" height="1" fill="#a0a0a0" />
<rect x="263" y="580" width="4" height="1" fill="#a0a0a0" />
<rect x="271" y="580" width="4" height="1" fill="#a0a0a0" />
<rect x="279" y="580" width="4" height="1" fill="#a0a0a0" />
<rect x="287" y="580" width="4" height="1" fill="#a0a0a0" />
<rect x="295" y="580" width="4" height="1" fill="#a0a0a0" />
<rect x="303" y="580" width="4" height="1" fill="#a0a0a0" />
<rect x="311" y="580" width="4" height="1" fill="#a0a0a0" />
<rect x="319" y="580" width="4" height="1" fill="#a0a0a0" />
<rect x="327" y="580" width="4" height="1" fill="#a0a0a0" />
<rect x="335" y="580" width="4" height="1" fill="#a0a0a0" />
<rect x="343" y="580" width="4" height="1" fill="#a0a0a0" />
<rect x="351" y="580" width="4" height="1" fill="#a0a0a0" />
<rect x="359" y="580" width="4" height="1" fill="#a0a0a0" />
<rect x="367" y="580" width="4" height="1" fill="#a0a0a0" />
<rect x="375" y="580" width="4" height="1" fill="#a0a0a0" />
<rect x="383" y="580" width="4" height="1" fill="#a0a0a0" />
<rect x="391" y="580" width="4" height="1" fill="#a0a0a0" />
<rect x="399" y="580" width="4" height="1" fill="#a0a0a0" />
<rect x="407" y="580" width="4" height="1" fill="#a0a0a0" />
<rect x="415" y="580" width="4" height="1" fill="#a0a0a0" />
<rect x="423" y="580" width="4" height="1" fill="#a0a0a0" />
<rect x="431" y="580" width="4" height="1" fill="#a0a0a0" />
<rect x="439" y="580" width="4" height="1" fill="#a0a0a0" />
<rect x="447" y="580" width="4" height="1" fill="#a0a0a0" />
<rect x="455" y="580" width="4" height="1" fill="#a0a0a0" />
<rect x="463" y="580" width="4" height="1" fill="#a0a0a0" />
<rect x="471" y="580" width="4" height="1" fill="#a0a0a0" />
<rect x="479" y="580" width="4" height="1" fill="#a0a0a0" />
<rect x="487" y="580" width="4" height="1" fill="#a0a0a0" />
<rect x="495" y="580" width="4" height="1" fill="#a0a0a0" />
<rect x="503" y="580" width="4" height="1" fill="#a0a0a0" />
<rect x="511" y="580" width="4" height="1" fill="#a0a0a0" />
<rect x="519" y="580" width="4" height="1" fill="#a0a0a0" />
<rect x="527" y="580" width="4" height="1" fill="#a0a0a0" />
<rect x="535" y="580" width="4" height="1" fill="#a0a0a0" />
<rect x="8" y="551" width="1" height="59" fill="#ececec" />
<rect x="130" y="570" width="6" height="21" fill="#ff0000" />
<rect x="138" y="570" width="6" height="21" fill="#008a00" />
<rect x="146" y="570" width="6" height="21" fill="#ff0000" />
<rect x="178" y="570" width="6" height="21" fill="#008a00" />
<rect x="330" y="570" width="6" height="21" fill="#ff0000" />
<rect x="346" y="570" width="6" height="21" fill="#008a00" />
<rect x="370" y="570" width="6" height="21" fill="#ff0000" />
<rect x="378" y="570" width="6" height="21" fill="#008a00" />
<rect x="386" y="570" width="6" height="21" fill="#ff0000" />
<rect x="394" y="570" width="6" height="21" fill="#008a00" />
<rect x="506" y="570" width="6" height="21" fill="#ff0000" />
<path d="M323 559h6v1h-6zM319 560h4v1h-4zM329 560h22v1h-22zM379 560h2v1h-2zM313 561h6v1h-6zM351 561h4v1h-4zM375 561h4v1h-4zM381 561h1v1h-1zM476 561h1v1h-1zM500 561h1v1h-1zM121 562h8v1h-8zM307 562h6v1h-6zM355 562h2v1h-2zM372 562h3v1h-3zM382 562h1v1h-1zM474 562h2v1h-2zM477 562h2v1h-2zM499 562h1v1h-1zM501 562h1v1h-1zM35 563h2v1h-2zM116 563h5v1h-5zM129 563h6v1h-6zM303 563h4v1h-4zM357 563h2v1h-2zM370 563h2v1h-2zM383 563h1v1h-1zM473 563h1v1h-1zM479 563h1v1h-1zM497 563h2v1h-2zM501 563h1v1h-1zM31 564h4v1h-4zM37 564h2v1h-2zM114 564h2v1h-2zM135 564h4v1h-4zM284 564h3v1h-3zM299 564h4v1h-4zM359 564h2v1h-2zM369 564h1v1h-1zM384 564h1v1h-1zM471 564h2v1h-2zM480 564h1v1h-1zM496 564h1v1h-1zM502 564h1v1h-1zM28 565h3v1h-3zM39 565h2v1h-2zM113 565h1v1h-1zM139 565h2v1h-2zM282 565h2v1h-2zM287 565h4v1h-4zM295 565h4v1h-4zM361 565h1v1h-1zM367 565h2v1h-2zM384 565h1v1h-1zM469 565h2v1h-2zM481 565h2v1h-2zM495 565h1v1h-1zM503 565h1v1h-1zM26 566h2v1h-2zM41 566h1v1h-1zM111 566h2v1h-2zM141 566h1v1h-1zM281 566h1v1h-1zM291 566h4v1h-4zM362 566h2v1h-2zM365 566h2v1h-2zM385 566h1v1h-1zM435 566h3v1h-3zM467 566h2v1h-2zM483 566h1v1h-1zM493 566h2v1h-2zM503 566h1v1h-1zM24 567h2v1h-2zM42 567h2v1h-2zM109 567h2v1h-2zM142 567h1v1h-1zM188 567h3v1h-3zM203 567h2v1h-2zM279 567h2v1h-2zM364 567h1v1h-1zM386 567h1v1h-1zM431 567h4v1h-4zM438 567h3v1h-3zM463 567h4v1h-4zM484 567h9v1h-9zM504 567h1v1h-1zM22 568h2v1h-2zM44 568h5v1h-5zM100 568h9v1h-9zM143 568h1v1h-1zM186 568h2v1h-2zM191 568h4v1h-4zM199 568h4v1h-4zM205 568h1v1h-1zM277 568h2v1h-2zM387 568h1v1h-1zM393 568h8v1h-8zM417 568h14v1h-14zM441 568h2v1h-2zM457 568h6v1h-6zM505 568h1v1h-1zM17 569h5v1h-5zM49 569h14v1h-14zM83 569h3v1h-3zM98 569h2v1h-2zM144 569h1v1h-1zM156 569h9v1h-9zM184 569h2v1h-2zM195 569h4v1h-4zM206 569h1v1h-1zM275 569h2v1h-2zM388 569h5v1h-5zM401 569h16v1h-16zM443 569h14v1h-14zM505 569h1v1h-1zM11 570h6v1h-6zM63 570h4v1h-4zM81 570h2v1h-2zM86 570h2v1h-2zM97 570h1v1h-1zM145 570h1v1h-1zM154 570h2v1h-2zM165 570h1v1h-1zM182 570h2v1h-2zM207 570h2v1h-2zM244 570h3v1h-3zM271 570h4v1h-4zM506 570h1v1h-1zM7 571h4v1h-4zM67 571h6v1h-6zM78 571h3v1h-3zM88 571h2v1h-2zM95 571h2v1h-2zM146 571h1v1h-1zM152 571h2v1h-2zM166 571h1v1h-1zM180 571h2v1h-2zM209 571h1v1h-1zM242 571h2v1h-2zM247 571h4v1h-4zM257 571h14v1h-14zM507 571h1v1h-1zM4 572h3v1h-3zM73 572h5v1h-5zM90 572h2v1h-2zM93 572h2v1h-2zM147 572h1v1h-1zM150 572h2v1h-2zM167 572h2v1h-2zM178 572h2v1h-2zM210 572h1v1h-1zM241 572h1v1h-1zM251 572h6v1h-6zM507 572h1v1h-1zM92 573h1v1h-1zM148 573h2v1h-2zM169 573h1v1h-1zM177 573h1v1h-1zM211 573h1v1h-1zM217 573h8v1h-8zM239 573h2v1h-2zM508 573h9v1h-9zM170 574h1v1h-1zM175 574h2v1h-2zM212 574h5v1h-5zM225 574h8v1h-8zM237 574h2v1h-2zM171 575h1v1h-1zM173 575h2v1h-2zM233 575h4v1h-4zM172 576h1v1h-1z" fill="#000" />
<rect x="0" y="550" width="541" height="1" fill="#000" />
<rect x="0" y="610" width="541" height="1" fill="#000" />
<rect x="0" y="550" width="1" height="61" fill="#000" />
<rect x="540" y="550" width="1" height="61" fill="#000" />
<text x="550" y="571" font-size="7.7" fill="#000" font-weight="bold" textLength="15" lengthAdjust="spacingAndGlyphs" >70%</text>
<text x="550" y="583" font-size="7.7" fill="#000" font-weight="bold" textLength="15" lengthAdjust="spacingAndGlyphs" >50%</text>
<text x="550" y="595" font-size="7.7" fill="#000" font-weight="bold" textLength="15" lengthAdjust="spacingAndGlyphs" >30%</text>
<text x="0" y="619" font-size="7.7" fill="#808080" font-weight="normal" textLength="30" lengthAdjust="spacingAndGlyphs"  stroke="#808080" stroke-width="0.3">31-Dec</text>
<text x="4.5" y="627.4" font-size="7.7" fill="#808080" font-weight="normal" textLength="20" lengthAdjust="spacingAndGlyphs"  stroke="#808080" stroke-width="0.3">2020</text>
<text x="33" y="619" font-size="7.7" fill="#808080" font-weight="normal" textLength="30" lengthAdjust="spacingAndGlyphs"  stroke="#808080" stroke-width="0.3">30-Apr</text>
<text x="37.5" y="627.4" font-size="7.7" fill="#808080" font-weight="normal" textLength="20" lengthAdjust="spacingAndGlyphs"  stroke="#808080" stroke-width="0.3">2021</text>
<text x="67" y="619" font-size="7.7" fill="#808080" font-weight="normal" textLength="30" lengthAdjust="spacingAndGlyphs"  stroke="#808080" stroke-width="0.3">30-Sep</text>
<text x="71.5" y="627.4" font-size="7.7" fill="#808080" font-weight="normal" textLength="20" lengthAdjust="spacingAndGlyphs"  stroke="#808080" stroke-width="0.3">2021</text>
<text x="107" y="619" font-size="7.7" fill="#808080" font-weight="normal" textLength="30" lengthAdjust="spacingAndGlyphs"  stroke="#808080" stroke-width="0.3">28-Feb</text>
<text x="111.5" y="627.4" font-size="7.7" fill="#808080" font-weight="normal" textLength="20" lengthAdjust="spacingAndGlyphs"  stroke="#808080" stroke-width="0.3">2022</text>
<text x="147" y="619" font-size="7.7" fill="#808080" font-weight="normal" textLength="30" lengthAdjust="spacingAndGlyphs"  stroke="#808080" stroke-width="0.3">29-Jul</text>
<text x="151.5" y="627.4" font-size="7.7" fill="#808080" font-weight="normal" textLength="20" lengthAdjust="spacingAndGlyphs"  stroke="#808080" stroke-width="0.3">2022</text>
<text x="187" y="619" font-size="7.7" fill="#808080" font-weight="normal" textLength="30" lengthAdjust="spacingAndGlyphs"  stroke="#808080" stroke-width="0.3">30-Dec</text>
<text x="191.5" y="627.4" font-size="7.7" fill="#808080" font-weight="normal" textLength="20" lengthAdjust="spacingAndGlyphs"  stroke="#808080" stroke-width="0.3">2022</text>
<text x="227" y="619" font-size="7.7" fill="#808080" font-weight="normal" textLength="30" lengthAdjust="spacingAndGlyphs"  stroke="#808080" stroke-width="0.3">31-May</text>
<text x="231.5" y="627.4" font-size="7.7" fill="#808080" font-weight="normal" textLength="20" lengthAdjust="spacingAndGlyphs"  stroke="#808080" stroke-width="0.3">2023</text>
<text x="267" y="619" font-size="7.7" fill="#808080" font-weight="normal" textLength="30" lengthAdjust="spacingAndGlyphs"  stroke="#808080" stroke-width="0.3">31-Oct</text>
<text x="271.5" y="627.4" font-size="7.7" fill="#808080" font-weight="normal" textLength="20" lengthAdjust="spacingAndGlyphs"  stroke="#808080" stroke-width="0.3">2023</text>
<text x="307" y="619" font-size="7.7" fill="#808080" font-weight="normal" textLength="30" lengthAdjust="spacingAndGlyphs"  stroke="#808080" stroke-width="0.3">28-Mar</text>
<text x="311.5" y="627.4" font-size="7.7" fill="#808080" font-weight="normal" textLength="20" lengthAdjust="spacingAndGlyphs"  stroke="#808080" stroke-width="0.3">2024</text>
<text x="347" y="619" font-size="7.7" fill="#808080" font-weight="normal" textLength="30" lengthAdjust="spacingAndGlyphs"  stroke="#808080" stroke-width="0.3">30-Aug</text>
<text x="351.5" y="627.4" font-size="7.7" fill="#808080" font-weight="normal" textLength="20" lengthAdjust="spacingAndGlyphs"  stroke="#808080" stroke-width="0.3">2024</text>
<text x="387" y="619" font-size="7.7" fill="#808080" font-weight="normal" textLength="30" lengthAdjust="spacingAndGlyphs"  stroke="#808080" stroke-width="0.3">31-Jan</text>
<text x="391.5" y="627.4" font-size="7.7" fill="#808080" font-weight="normal" textLength="20" lengthAdjust="spacingAndGlyphs"  stroke="#808080" stroke-width="0.3">2025</text>
<text x="427" y="619" font-size="7.7" fill="#808080" font-weight="normal" textLength="30" lengthAdjust="spacingAndGlyphs"  stroke="#808080" stroke-width="0.3">30-Jun</text>
<text x="431.5" y="627.4" font-size="7.7" fill="#808080" font-weight="normal" textLength="20" lengthAdjust="spacingAndGlyphs"  stroke="#808080" stroke-width="0.3">2025</text>
<text x="467" y="619" font-size="7.7" fill="#808080" font-weight="normal" textLength="30" lengthAdjust="spacingAndGlyphs"  stroke="#808080" stroke-width="0.3">28-Nov</text>
<text x="471.5" y="627.4" font-size="7.7" fill="#808080" font-weight="normal" textLength="20" lengthAdjust="spacingAndGlyphs"  stroke="#808080" stroke-width="0.3">2025</text>
<text x="507" y="619" font-size="7.7" fill="#808080" font-weight="normal" textLength="30" lengthAdjust="spacingAndGlyphs"  stroke="#808080" stroke-width="0.3">28-Apr</text>
<text x="511.5" y="627.4" font-size="7.7" fill="#808080" font-weight="normal" textLength="20" lengthAdjust="spacingAndGlyphs"  stroke="#808080" stroke-width="0.3">2026</text>
<text x="1" y="638" font-size="7.7" fill="#000" font-weight="bold" textLength="120" lengthAdjust="spacingAndGlyphs" >% K - HCS IMI Crossover,</text>
<rect x="126" y="631" width="38" height="9" fill="#009900" />
<text x="128" y="638" font-size="7.7" fill="#fff" font-weight="bold" textLength="35" lengthAdjust="spacingAndGlyphs" >Bullish</text>
<rect x="175" y="631" width="39" height="9" fill="#ff0000" />
<text x="179" y="638" font-size="7.7" fill="#fff" font-weight="bold" textLength="35" lengthAdjust="spacingAndGlyphs" >Bearish</text>
<text x="240" y="638" font-size="7.7" fill="#ff7f00" font-weight="bold" textLength="205" lengthAdjust="spacingAndGlyphs" >23.6-38.2-50-61.8% Fibonacci Retracements</text>
<circle cx="468" cy="634" r="4.5" fill="none" stroke="#404040" stroke-width="1.2" shape-rendering="auto"/>
<text x="465.5" y="636.5" font-size="8" fill="#404040" font-weight="bold" textLength="5" lengthAdjust="spacingAndGlyphs" >c</text>
<text x="475" y="638" font-size="11" fill="#505050" font-weight="bold" textLength="126" lengthAdjust="spacingAndGlyphs" >HotCandlestick.com</text>
</svg></body></html>
